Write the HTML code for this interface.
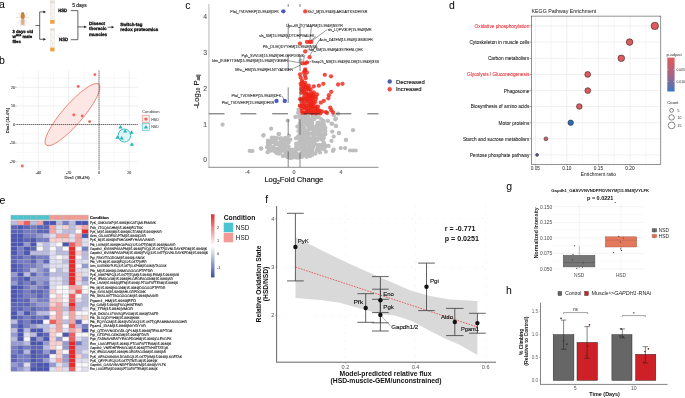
<!DOCTYPE html>
<html><head><meta charset="utf-8"><style>
html,body{margin:0;padding:0;background:#fff;}
body{width:685px;height:398px;overflow:hidden;}
svg{display:block;font-family:"Liberation Sans",sans-serif;will-change:transform;}
</style></head><body>
<svg width="685" height="398" viewBox="0 0 685 398">
<rect x="0" y="0" width="685" height="398" fill="#fff"/>
<text x="-0.90" y="7.80" font-size="10.5">a</text>
<text x="-0.90" y="63.60" font-size="10.5">b</text>
<text x="185.20" y="8.50" font-size="10.5">c</text>
<text x="449.00" y="8.70" font-size="10.5">d</text>
<text x="-0.60" y="203.80" font-size="10.5">e</text>
<text x="265.30" y="202.60" font-size="10.5">f</text>
<text x="506.20" y="189.60" font-size="10.5">g</text>
<text x="505.90" y="294.20" font-size="10.5">h</text>
<line x1="21.50" y1="15.50" x2="17.50" y2="13.00" stroke="#dcc0a4" stroke-width="0.45"/>
<line x1="24.00" y1="15.50" x2="28.00" y2="13.00" stroke="#dcc0a4" stroke-width="0.45"/>
<line x1="21.30" y1="17.20" x2="16.00" y2="17.60" stroke="#dcc0a4" stroke-width="0.45"/>
<line x1="24.20" y1="17.20" x2="29.40" y2="17.60" stroke="#dcc0a4" stroke-width="0.45"/>
<line x1="21.50" y1="18.80" x2="17.80" y2="23.50" stroke="#dcc0a4" stroke-width="0.45"/>
<line x1="24.00" y1="18.80" x2="27.80" y2="23.50" stroke="#dcc0a4" stroke-width="0.45"/>
<ellipse cx="21.9" cy="21.6" rx="1.5" ry="4.6" fill="#eadbd0" transform="rotate(8 21.9 21.6)"/>
<ellipse cx="23.6" cy="21.6" rx="1.5" ry="4.6" fill="#eadbd0" transform="rotate(-8 23.6 21.6)"/>
<ellipse cx="22.75" cy="21.4" rx="1.6" ry="3.6" fill="#d9b08e"/>
<ellipse cx="22.75" cy="16.3" rx="2.1" ry="2.7" fill="#c9843f"/>
<ellipse cx="22.75" cy="13.2" rx="1.6" ry="1.0" fill="#b97335"/>
<text x="12.40" y="32.70" font-size="4.3" stroke="#111" stroke-width="0.3" font-weight="bold" fill="#111" textLength="20.80" lengthAdjust="spacingAndGlyphs" style="text-rendering:geometricPrecision">3 days old</text>
<text x="12.4" y="37.8" font-size="4.3" font-weight="bold" fill="#111" stroke="#111" stroke-width="0.3" style="text-rendering:geometricPrecision">w<tspan font-size="2.6" dy="-1.5">1118</tspan><tspan dy="1.5"> male</tspan></text>
<text x="12.40" y="42.60" font-size="4.3" stroke="#111" stroke-width="0.3" font-weight="bold" fill="#111" textLength="8.40" lengthAdjust="spacingAndGlyphs" style="text-rendering:geometricPrecision">flies</text>
<line x1="35.40" y1="25.50" x2="39.70" y2="25.50" stroke="#222" stroke-width="0.7"/>
<line x1="39.70" y1="11.90" x2="39.70" y2="39.30" stroke="#222" stroke-width="0.7"/>
<line x1="39.70" y1="11.90" x2="44.50" y2="11.90" stroke="#222" stroke-width="0.7"/>
<line x1="39.70" y1="39.30" x2="44.50" y2="39.30" stroke="#222" stroke-width="0.7"/>
<path d="M46.0,11.9 L43.4,10.5 L43.4,13.3 Z" fill="#222"/>
<path d="M46.0,39.3 L43.4,37.9 L43.4,40.7 Z" fill="#222"/>
<rect x="50.10" y="0.70" width="4.50" height="23.00" fill="#f6f5f3" stroke="#dedad6" stroke-width="0.35"/>
<rect x="50.30" y="0.90" width="4.10" height="2.40" fill="#e4dcd2"/>
<rect x="50.20" y="20.00" width="4.30" height="3.70" fill="#eea23a"/>
<circle cx="51.60" cy="6.70" r="0.40" fill="#d8b080"/>
<circle cx="52.90" cy="9.70" r="0.40" fill="#d8b080"/>
<circle cx="51.30" cy="13.20" r="0.40" fill="#d8b080"/>
<circle cx="52.70" cy="16.20" r="0.40" fill="#d8b080"/>
<circle cx="51.90" cy="18.70" r="0.40" fill="#d8b080"/>
<rect x="50.10" y="28.20" width="4.50" height="23.10" fill="#f6f5f3" stroke="#dedad6" stroke-width="0.35"/>
<rect x="50.30" y="28.40" width="4.10" height="2.40" fill="#e4dcd2"/>
<rect x="50.20" y="47.60" width="4.30" height="3.70" fill="#eea23a"/>
<circle cx="51.60" cy="34.20" r="0.40" fill="#d8b080"/>
<circle cx="52.90" cy="37.20" r="0.40" fill="#d8b080"/>
<circle cx="51.30" cy="40.70" r="0.40" fill="#d8b080"/>
<circle cx="52.70" cy="43.70" r="0.40" fill="#d8b080"/>
<circle cx="51.90" cy="46.20" r="0.40" fill="#d8b080"/>
<text x="58.20" y="12.30" font-size="4.7" stroke="#111" stroke-width="0.3" font-weight="bold" fill="#111" textLength="9.00" lengthAdjust="spacingAndGlyphs" style="text-rendering:geometricPrecision">HSD</text>
<text x="59.10" y="41.30" font-size="4.7" stroke="#111" stroke-width="0.3" font-weight="bold" fill="#111" textLength="9.10" lengthAdjust="spacingAndGlyphs" style="text-rendering:geometricPrecision">NSD</text>
<line x1="70.80" y1="10.60" x2="77.90" y2="10.60" stroke="#222" stroke-width="0.7"/>
<line x1="70.80" y1="39.70" x2="77.90" y2="39.70" stroke="#222" stroke-width="0.7"/>
<line x1="77.90" y1="10.60" x2="77.90" y2="39.70" stroke="#222" stroke-width="0.7"/>
<line x1="77.90" y1="26.90" x2="85.20" y2="26.90" stroke="#222" stroke-width="0.7"/>
<path d="M86.8,26.9 L84.2,25.5 L84.2,28.3 Z" fill="#222"/>
<text x="72.20" y="7.30" font-size="4.6" stroke="#111" stroke-width="0.12" fill="#111" textLength="14.60" lengthAdjust="spacingAndGlyphs">5 days</text>
<text x="89.00" y="24.80" font-size="4.5" stroke="#111" stroke-width="0.3" font-weight="bold" fill="#111" textLength="16.10" lengthAdjust="spacingAndGlyphs" style="text-rendering:geometricPrecision">Dissect</text>
<text x="89.00" y="30.20" font-size="4.5" stroke="#111" stroke-width="0.3" font-weight="bold" fill="#111" textLength="17.60" lengthAdjust="spacingAndGlyphs" style="text-rendering:geometricPrecision">thoracic</text>
<text x="89.00" y="35.80" font-size="4.5" stroke="#111" stroke-width="0.3" font-weight="bold" fill="#111" textLength="17.90" lengthAdjust="spacingAndGlyphs" style="text-rendering:geometricPrecision">muscles</text>
<line x1="107.70" y1="27.20" x2="112.60" y2="27.20" stroke="#222" stroke-width="0.7"/>
<path d="M114.2,27.2 L111.6,25.8 L111.6,28.6 Z" fill="#222"/>
<text x="120.30" y="26.20" font-size="4.6" stroke="#111" stroke-width="0.3" font-weight="bold" fill="#111" textLength="22.00" lengthAdjust="spacingAndGlyphs" style="text-rendering:geometricPrecision">Switch-tag</text>
<text x="120.30" y="30.90" font-size="4.6" stroke="#111" stroke-width="0.3" font-weight="bold" fill="#111" textLength="38.10" lengthAdjust="spacingAndGlyphs" style="text-rendering:geometricPrecision">redox proteomics</text>
<line x1="23.25" y1="70.60" x2="23.25" y2="170.30" stroke="#f0f0f0" stroke-width="0.45"/>
<line x1="53.55" y1="70.60" x2="53.55" y2="170.30" stroke="#f0f0f0" stroke-width="0.45"/>
<line x1="83.85" y1="70.60" x2="83.85" y2="170.30" stroke="#f0f0f0" stroke-width="0.45"/>
<line x1="114.15" y1="70.60" x2="114.15" y2="170.30" stroke="#f0f0f0" stroke-width="0.45"/>
<line x1="16.70" y1="78.00" x2="137.70" y2="78.00" stroke="#f0f0f0" stroke-width="0.45"/>
<line x1="16.70" y1="96.60" x2="137.70" y2="96.60" stroke="#f0f0f0" stroke-width="0.45"/>
<line x1="16.70" y1="115.20" x2="137.70" y2="115.20" stroke="#f0f0f0" stroke-width="0.45"/>
<line x1="16.70" y1="133.80" x2="137.70" y2="133.80" stroke="#f0f0f0" stroke-width="0.45"/>
<line x1="16.70" y1="152.40" x2="137.70" y2="152.40" stroke="#f0f0f0" stroke-width="0.45"/>
<line x1="38.40" y1="70.60" x2="38.40" y2="170.30" stroke="#e2e2e2" stroke-width="0.55"/>
<line x1="68.70" y1="70.60" x2="68.70" y2="170.30" stroke="#e2e2e2" stroke-width="0.55"/>
<line x1="99.00" y1="70.60" x2="99.00" y2="170.30" stroke="#e2e2e2" stroke-width="0.55"/>
<line x1="129.30" y1="70.60" x2="129.30" y2="170.30" stroke="#e2e2e2" stroke-width="0.55"/>
<line x1="16.70" y1="87.30" x2="137.70" y2="87.30" stroke="#e2e2e2" stroke-width="0.55"/>
<line x1="16.70" y1="105.90" x2="137.70" y2="105.90" stroke="#e2e2e2" stroke-width="0.55"/>
<line x1="16.70" y1="124.50" x2="137.70" y2="124.50" stroke="#e2e2e2" stroke-width="0.55"/>
<line x1="16.70" y1="143.10" x2="137.70" y2="143.10" stroke="#e2e2e2" stroke-width="0.55"/>
<line x1="16.70" y1="161.70" x2="137.70" y2="161.70" stroke="#e2e2e2" stroke-width="0.55"/>
<ellipse cx="72.5" cy="114.6" rx="40.3" ry="10.1" fill="#fbe3df" fill-opacity="0.85" stroke="#ef6a60" stroke-width="0.75" transform="rotate(-49.1 72.5 114.6)"/>
<ellipse cx="124.4" cy="135.5" rx="6.3" ry="6.5" fill="#dff3f4" stroke="#1fb5c0" stroke-width="0.85"/>
<line x1="16.70" y1="124.50" x2="137.70" y2="124.50" stroke="#000" stroke-width="0.7" stroke-dasharray="1.1 0.9"/>
<line x1="99.00" y1="70.60" x2="99.00" y2="170.30" stroke="#000" stroke-width="0.7" stroke-dasharray="1.1 0.9"/>
<circle cx="94.90" cy="74.60" r="1.45" fill="#f1645c"/>
<circle cx="78.20" cy="86.40" r="1.45" fill="#f1645c"/>
<circle cx="73.80" cy="114.90" r="1.45" fill="#f1645c"/>
<circle cx="82.20" cy="115.90" r="1.45" fill="#f1645c"/>
<circle cx="89.60" cy="121.60" r="1.45" fill="#f1645c"/>
<circle cx="22.30" cy="166.00" r="1.45" fill="#f1645c"/>
<path d="M120.50,125.10 L122.60,128.60 L118.40,128.60 Z" fill="#1fb5c0"/>
<path d="M125.20,129.10 L127.30,132.60 L123.10,132.60 Z" fill="#1fb5c0"/>
<path d="M131.60,130.31 L133.70,133.80 L129.50,133.80 Z" fill="#1fb5c0"/>
<path d="M117.50,135.31 L119.60,138.80 L115.40,138.80 Z" fill="#1fb5c0"/>
<path d="M121.70,136.10 L123.80,139.60 L119.60,139.60 Z" fill="#1fb5c0"/>
<path d="M131.90,142.31 L134.00,145.80 L129.80,145.80 Z" fill="#1fb5c0"/>
<line x1="15.30" y1="87.30" x2="16.50" y2="87.30" stroke="#333" stroke-width="0.4"/>
<text x="14.90" y="88.60" font-size="3.6" stroke="#444" stroke-width="0.1" text-anchor="end" fill="#444">20</text>
<line x1="15.30" y1="105.90" x2="16.50" y2="105.90" stroke="#333" stroke-width="0.4"/>
<text x="14.90" y="107.20" font-size="3.6" stroke="#444" stroke-width="0.1" text-anchor="end" fill="#444">10</text>
<line x1="15.30" y1="124.50" x2="16.50" y2="124.50" stroke="#333" stroke-width="0.4"/>
<text x="14.90" y="125.80" font-size="3.6" stroke="#444" stroke-width="0.1" text-anchor="end" fill="#444">0</text>
<line x1="15.30" y1="143.10" x2="16.50" y2="143.10" stroke="#333" stroke-width="0.4"/>
<text x="14.90" y="144.40" font-size="3.6" stroke="#444" stroke-width="0.1" text-anchor="end" fill="#444">-10</text>
<line x1="15.30" y1="161.70" x2="16.50" y2="161.70" stroke="#333" stroke-width="0.4"/>
<text x="14.90" y="163.00" font-size="3.6" stroke="#444" stroke-width="0.1" text-anchor="end" fill="#444">-20</text>
<text x="38.40" y="174.30" font-size="3.6" stroke="#444" stroke-width="0.1" text-anchor="middle" fill="#444">-40</text>
<text x="68.70" y="174.30" font-size="3.6" stroke="#444" stroke-width="0.1" text-anchor="middle" fill="#444">-20</text>
<text x="99.00" y="174.30" font-size="3.6" stroke="#444" stroke-width="0.1" text-anchor="middle" fill="#444">0</text>
<text x="129.30" y="174.30" font-size="3.6" stroke="#444" stroke-width="0.1" text-anchor="middle" fill="#444">20</text>
<text x="77.10" y="178.60" font-size="4.1" stroke="#222" stroke-width="0.12" text-anchor="middle" fill="#222" textLength="25.20" lengthAdjust="spacingAndGlyphs">Dim1 (38.4%)</text>
<text x="8.90" y="120.60" font-size="4.1" stroke="#222" stroke-width="0.12" text-anchor="middle" fill="#222" textLength="25.20" lengthAdjust="spacingAndGlyphs" transform="rotate(-90 8.90 120.60)">Dim2 (14.4%)</text>
<text x="142.10" y="113.10" font-size="4.1" fill="#333" textLength="17.40" lengthAdjust="spacingAndGlyphs">Condition</text>
<rect x="142.20" y="115.60" width="7.40" height="7.10" fill="#fdf0ee" stroke="#f0766c" stroke-width="0.5"/>
<circle cx="145.90" cy="119.10" r="1.70" fill="#f1645c"/>
<rect x="142.20" y="123.20" width="7.40" height="7.10" fill="#e6f6f7" stroke="#1fb5c0" stroke-width="0.5"/>
<path d="M145.90,124.91 L148.00,128.40 L143.80,128.40 Z" fill="#1fb5c0"/>
<text x="151.20" y="120.50" font-size="3.5" fill="#222" textLength="7.70" lengthAdjust="spacingAndGlyphs">HSD</text>
<text x="151.20" y="128.20" font-size="3.5" fill="#222" textLength="7.70" lengthAdjust="spacingAndGlyphs">NSD</text>
<line x1="208.90" y1="4.00" x2="208.90" y2="167.30" stroke="#cdcdcd" stroke-width="1.4"/>
<line x1="208.40" y1="167.30" x2="378.50" y2="167.30" stroke="#777" stroke-width="0.85"/>
<circle cx="299.61" cy="115.15" r="2.10" fill="#bebebe"/>
<circle cx="302.10" cy="114.75" r="2.10" fill="#bebebe"/>
<circle cx="303.79" cy="115.12" r="2.10" fill="#bebebe"/>
<circle cx="306.62" cy="115.15" r="2.10" fill="#bebebe"/>
<circle cx="314.67" cy="114.64" r="2.10" fill="#bebebe"/>
<circle cx="316.40" cy="114.75" r="2.10" fill="#bebebe"/>
<circle cx="299.96" cy="116.39" r="2.10" fill="#bebebe"/>
<circle cx="301.79" cy="116.20" r="2.10" fill="#bebebe"/>
<circle cx="303.61" cy="116.16" r="2.10" fill="#bebebe"/>
<circle cx="306.61" cy="117.35" r="2.10" fill="#bebebe"/>
<circle cx="308.03" cy="116.02" r="2.10" fill="#bebebe"/>
<circle cx="312.67" cy="116.28" r="2.10" fill="#bebebe"/>
<circle cx="315.08" cy="117.11" r="2.10" fill="#bebebe"/>
<circle cx="317.04" cy="116.54" r="2.10" fill="#bebebe"/>
<circle cx="318.63" cy="117.23" r="2.10" fill="#bebebe"/>
<circle cx="300.13" cy="119.16" r="2.10" fill="#bebebe"/>
<circle cx="301.86" cy="119.09" r="2.10" fill="#bebebe"/>
<circle cx="303.89" cy="118.78" r="2.10" fill="#bebebe"/>
<circle cx="308.21" cy="119.42" r="2.10" fill="#bebebe"/>
<circle cx="310.86" cy="118.91" r="2.10" fill="#bebebe"/>
<circle cx="314.60" cy="119.04" r="2.10" fill="#bebebe"/>
<circle cx="321.19" cy="119.00" r="2.10" fill="#bebebe"/>
<circle cx="303.77" cy="120.30" r="2.10" fill="#bebebe"/>
<circle cx="306.30" cy="120.78" r="2.10" fill="#bebebe"/>
<circle cx="308.66" cy="121.08" r="2.10" fill="#bebebe"/>
<circle cx="310.28" cy="121.51" r="2.10" fill="#bebebe"/>
<circle cx="312.10" cy="120.82" r="2.10" fill="#bebebe"/>
<circle cx="323.61" cy="120.73" r="2.10" fill="#bebebe"/>
<circle cx="299.78" cy="122.85" r="2.10" fill="#bebebe"/>
<circle cx="302.73" cy="123.09" r="2.10" fill="#bebebe"/>
<circle cx="303.90" cy="123.07" r="2.10" fill="#bebebe"/>
<circle cx="305.82" cy="123.27" r="2.10" fill="#bebebe"/>
<circle cx="308.42" cy="122.81" r="2.10" fill="#bebebe"/>
<circle cx="311.04" cy="123.56" r="2.10" fill="#bebebe"/>
<circle cx="312.12" cy="123.15" r="2.10" fill="#bebebe"/>
<circle cx="317.49" cy="122.74" r="2.10" fill="#bebebe"/>
<circle cx="318.92" cy="122.62" r="2.10" fill="#bebebe"/>
<circle cx="322.08" cy="122.81" r="2.10" fill="#bebebe"/>
<circle cx="323.70" cy="123.06" r="2.10" fill="#bebebe"/>
<circle cx="299.29" cy="125.72" r="2.10" fill="#bebebe"/>
<circle cx="302.32" cy="125.16" r="2.10" fill="#bebebe"/>
<circle cx="306.92" cy="124.75" r="2.10" fill="#bebebe"/>
<circle cx="308.47" cy="125.32" r="2.10" fill="#bebebe"/>
<circle cx="310.65" cy="125.01" r="2.10" fill="#bebebe"/>
<circle cx="312.31" cy="125.37" r="2.10" fill="#bebebe"/>
<circle cx="316.72" cy="125.70" r="2.10" fill="#bebebe"/>
<circle cx="319.66" cy="125.48" r="2.10" fill="#bebebe"/>
<circle cx="320.74" cy="125.56" r="2.10" fill="#bebebe"/>
<circle cx="324.22" cy="125.95" r="2.10" fill="#bebebe"/>
<circle cx="299.91" cy="127.97" r="2.10" fill="#bebebe"/>
<circle cx="302.13" cy="127.57" r="2.10" fill="#bebebe"/>
<circle cx="303.87" cy="127.47" r="2.10" fill="#bebebe"/>
<circle cx="308.52" cy="126.89" r="2.10" fill="#bebebe"/>
<circle cx="313.13" cy="126.95" r="2.10" fill="#bebebe"/>
<circle cx="315.25" cy="127.62" r="2.10" fill="#bebebe"/>
<circle cx="316.52" cy="127.64" r="2.10" fill="#bebebe"/>
<circle cx="321.53" cy="127.03" r="2.10" fill="#bebebe"/>
<circle cx="324.08" cy="127.37" r="2.10" fill="#bebebe"/>
<circle cx="325.45" cy="127.82" r="2.10" fill="#bebebe"/>
<circle cx="302.59" cy="129.52" r="2.10" fill="#bebebe"/>
<circle cx="304.56" cy="128.85" r="2.10" fill="#bebebe"/>
<circle cx="308.67" cy="129.45" r="2.10" fill="#bebebe"/>
<circle cx="310.60" cy="128.99" r="2.10" fill="#bebebe"/>
<circle cx="312.32" cy="129.07" r="2.10" fill="#bebebe"/>
<circle cx="317.63" cy="129.06" r="2.10" fill="#bebebe"/>
<circle cx="318.91" cy="129.24" r="2.10" fill="#bebebe"/>
<circle cx="320.93" cy="129.25" r="2.10" fill="#bebebe"/>
<circle cx="325.04" cy="130.14" r="2.10" fill="#bebebe"/>
<circle cx="298.42" cy="131.01" r="2.10" fill="#bebebe"/>
<circle cx="301.92" cy="131.06" r="2.10" fill="#bebebe"/>
<circle cx="304.27" cy="132.39" r="2.10" fill="#bebebe"/>
<circle cx="306.38" cy="131.49" r="2.10" fill="#bebebe"/>
<circle cx="307.93" cy="131.10" r="2.10" fill="#bebebe"/>
<circle cx="313.41" cy="131.08" r="2.10" fill="#bebebe"/>
<circle cx="314.59" cy="131.07" r="2.10" fill="#bebebe"/>
<circle cx="316.96" cy="131.08" r="2.10" fill="#bebebe"/>
<circle cx="318.91" cy="131.57" r="2.10" fill="#bebebe"/>
<circle cx="321.13" cy="131.07" r="2.10" fill="#bebebe"/>
<circle cx="325.25" cy="131.71" r="2.10" fill="#bebebe"/>
<circle cx="299.80" cy="133.96" r="2.10" fill="#bebebe"/>
<circle cx="301.69" cy="133.24" r="2.10" fill="#bebebe"/>
<circle cx="304.48" cy="133.22" r="2.10" fill="#bebebe"/>
<circle cx="305.93" cy="133.55" r="2.10" fill="#bebebe"/>
<circle cx="308.32" cy="133.29" r="2.10" fill="#bebebe"/>
<circle cx="310.54" cy="133.59" r="2.10" fill="#bebebe"/>
<circle cx="313.15" cy="133.93" r="2.10" fill="#bebebe"/>
<circle cx="315.50" cy="134.07" r="2.10" fill="#bebebe"/>
<circle cx="317.46" cy="133.95" r="2.10" fill="#bebebe"/>
<circle cx="319.17" cy="134.29" r="2.10" fill="#bebebe"/>
<circle cx="321.62" cy="134.49" r="2.10" fill="#bebebe"/>
<circle cx="323.87" cy="134.13" r="2.10" fill="#bebebe"/>
<circle cx="325.37" cy="134.29" r="2.10" fill="#bebebe"/>
<circle cx="298.36" cy="136.41" r="2.10" fill="#bebebe"/>
<circle cx="299.37" cy="135.74" r="2.10" fill="#bebebe"/>
<circle cx="302.63" cy="135.95" r="2.10" fill="#bebebe"/>
<circle cx="304.11" cy="135.92" r="2.10" fill="#bebebe"/>
<circle cx="306.72" cy="136.61" r="2.10" fill="#bebebe"/>
<circle cx="308.55" cy="136.66" r="2.10" fill="#bebebe"/>
<circle cx="313.24" cy="135.89" r="2.10" fill="#bebebe"/>
<circle cx="314.32" cy="136.67" r="2.10" fill="#bebebe"/>
<circle cx="321.25" cy="135.60" r="2.10" fill="#bebebe"/>
<circle cx="323.24" cy="135.58" r="2.10" fill="#bebebe"/>
<circle cx="272.44" cy="138.32" r="2.10" fill="#bebebe"/>
<circle cx="273.96" cy="137.65" r="2.10" fill="#bebebe"/>
<circle cx="276.71" cy="138.14" r="2.10" fill="#bebebe"/>
<circle cx="279.99" cy="138.45" r="2.10" fill="#bebebe"/>
<circle cx="285.27" cy="137.90" r="2.10" fill="#bebebe"/>
<circle cx="287.26" cy="138.66" r="2.10" fill="#bebebe"/>
<circle cx="297.49" cy="137.49" r="2.10" fill="#bebebe"/>
<circle cx="299.64" cy="137.99" r="2.10" fill="#bebebe"/>
<circle cx="302.02" cy="138.43" r="2.10" fill="#bebebe"/>
<circle cx="304.06" cy="138.83" r="2.10" fill="#bebebe"/>
<circle cx="306.79" cy="138.74" r="2.10" fill="#bebebe"/>
<circle cx="310.70" cy="138.57" r="2.10" fill="#bebebe"/>
<circle cx="312.61" cy="138.28" r="2.10" fill="#bebebe"/>
<circle cx="315.20" cy="138.18" r="2.10" fill="#bebebe"/>
<circle cx="318.67" cy="137.95" r="2.10" fill="#bebebe"/>
<circle cx="321.51" cy="138.51" r="2.10" fill="#bebebe"/>
<circle cx="323.85" cy="137.88" r="2.10" fill="#bebebe"/>
<circle cx="268.00" cy="140.54" r="2.10" fill="#bebebe"/>
<circle cx="270.44" cy="140.86" r="2.10" fill="#bebebe"/>
<circle cx="272.21" cy="140.77" r="2.10" fill="#bebebe"/>
<circle cx="274.43" cy="140.46" r="2.10" fill="#bebebe"/>
<circle cx="275.84" cy="140.32" r="2.10" fill="#bebebe"/>
<circle cx="281.21" cy="140.36" r="2.10" fill="#bebebe"/>
<circle cx="282.55" cy="139.60" r="2.10" fill="#bebebe"/>
<circle cx="284.70" cy="139.85" r="2.10" fill="#bebebe"/>
<circle cx="287.21" cy="140.86" r="2.10" fill="#bebebe"/>
<circle cx="299.63" cy="139.97" r="2.10" fill="#bebebe"/>
<circle cx="302.22" cy="140.86" r="2.10" fill="#bebebe"/>
<circle cx="303.73" cy="140.49" r="2.10" fill="#bebebe"/>
<circle cx="306.72" cy="139.91" r="2.10" fill="#bebebe"/>
<circle cx="307.89" cy="140.39" r="2.10" fill="#bebebe"/>
<circle cx="311.11" cy="140.83" r="2.10" fill="#bebebe"/>
<circle cx="313.12" cy="140.18" r="2.10" fill="#bebebe"/>
<circle cx="314.85" cy="140.34" r="2.10" fill="#bebebe"/>
<circle cx="317.67" cy="140.02" r="2.10" fill="#bebebe"/>
<circle cx="322.05" cy="139.86" r="2.10" fill="#bebebe"/>
<circle cx="322.89" cy="139.76" r="2.10" fill="#bebebe"/>
<circle cx="267.78" cy="142.65" r="2.10" fill="#bebebe"/>
<circle cx="270.07" cy="142.77" r="2.10" fill="#bebebe"/>
<circle cx="271.34" cy="142.43" r="2.10" fill="#bebebe"/>
<circle cx="274.57" cy="143.09" r="2.10" fill="#bebebe"/>
<circle cx="276.00" cy="142.94" r="2.10" fill="#bebebe"/>
<circle cx="278.60" cy="143.05" r="2.10" fill="#bebebe"/>
<circle cx="280.17" cy="142.73" r="2.10" fill="#bebebe"/>
<circle cx="283.18" cy="142.42" r="2.10" fill="#bebebe"/>
<circle cx="284.29" cy="142.02" r="2.10" fill="#bebebe"/>
<circle cx="288.66" cy="142.61" r="2.10" fill="#bebebe"/>
<circle cx="298.34" cy="143.09" r="2.10" fill="#bebebe"/>
<circle cx="300.08" cy="143.10" r="2.10" fill="#bebebe"/>
<circle cx="301.49" cy="141.89" r="2.10" fill="#bebebe"/>
<circle cx="306.17" cy="142.39" r="2.10" fill="#bebebe"/>
<circle cx="308.75" cy="142.79" r="2.10" fill="#bebebe"/>
<circle cx="310.07" cy="142.31" r="2.10" fill="#bebebe"/>
<circle cx="312.86" cy="142.28" r="2.10" fill="#bebebe"/>
<circle cx="314.41" cy="142.59" r="2.10" fill="#bebebe"/>
<circle cx="323.91" cy="142.76" r="2.10" fill="#bebebe"/>
<circle cx="267.98" cy="145.19" r="2.10" fill="#bebebe"/>
<circle cx="269.63" cy="144.31" r="2.10" fill="#bebebe"/>
<circle cx="275.96" cy="144.37" r="2.10" fill="#bebebe"/>
<circle cx="278.89" cy="144.63" r="2.10" fill="#bebebe"/>
<circle cx="279.92" cy="144.49" r="2.10" fill="#bebebe"/>
<circle cx="282.33" cy="144.83" r="2.10" fill="#bebebe"/>
<circle cx="284.25" cy="144.28" r="2.10" fill="#bebebe"/>
<circle cx="286.43" cy="144.57" r="2.10" fill="#bebebe"/>
<circle cx="296.04" cy="143.91" r="2.10" fill="#bebebe"/>
<circle cx="301.99" cy="144.44" r="2.10" fill="#bebebe"/>
<circle cx="304.22" cy="143.97" r="2.10" fill="#bebebe"/>
<circle cx="308.42" cy="144.56" r="2.10" fill="#bebebe"/>
<circle cx="310.07" cy="144.29" r="2.10" fill="#bebebe"/>
<circle cx="313.44" cy="144.86" r="2.10" fill="#bebebe"/>
<circle cx="314.96" cy="143.97" r="2.10" fill="#bebebe"/>
<circle cx="316.95" cy="144.99" r="2.10" fill="#bebebe"/>
<circle cx="319.16" cy="144.73" r="2.10" fill="#bebebe"/>
<circle cx="321.96" cy="144.80" r="2.10" fill="#bebebe"/>
<circle cx="323.74" cy="143.95" r="2.10" fill="#bebebe"/>
<circle cx="325.03" cy="144.98" r="2.10" fill="#bebebe"/>
<circle cx="268.11" cy="147.33" r="2.10" fill="#bebebe"/>
<circle cx="272.31" cy="147.30" r="2.10" fill="#bebebe"/>
<circle cx="273.61" cy="147.14" r="2.10" fill="#bebebe"/>
<circle cx="280.44" cy="146.43" r="2.10" fill="#bebebe"/>
<circle cx="282.66" cy="146.45" r="2.10" fill="#bebebe"/>
<circle cx="285.08" cy="146.22" r="2.10" fill="#bebebe"/>
<circle cx="286.54" cy="146.69" r="2.10" fill="#bebebe"/>
<circle cx="288.55" cy="146.58" r="2.10" fill="#bebebe"/>
<circle cx="296.06" cy="147.40" r="2.10" fill="#bebebe"/>
<circle cx="297.89" cy="146.24" r="2.10" fill="#bebebe"/>
<circle cx="299.53" cy="147.34" r="2.10" fill="#bebebe"/>
<circle cx="302.66" cy="146.09" r="2.10" fill="#bebebe"/>
<circle cx="303.76" cy="146.65" r="2.10" fill="#bebebe"/>
<circle cx="306.02" cy="147.11" r="2.10" fill="#bebebe"/>
<circle cx="308.32" cy="147.14" r="2.10" fill="#bebebe"/>
<circle cx="310.16" cy="146.78" r="2.10" fill="#bebebe"/>
<circle cx="313.46" cy="147.03" r="2.10" fill="#bebebe"/>
<circle cx="319.07" cy="146.72" r="2.10" fill="#bebebe"/>
<circle cx="321.51" cy="147.40" r="2.10" fill="#bebebe"/>
<circle cx="325.37" cy="146.81" r="2.10" fill="#bebebe"/>
<circle cx="269.11" cy="149.28" r="2.10" fill="#bebebe"/>
<circle cx="271.84" cy="148.91" r="2.10" fill="#bebebe"/>
<circle cx="274.25" cy="149.31" r="2.10" fill="#bebebe"/>
<circle cx="275.63" cy="148.90" r="2.10" fill="#bebebe"/>
<circle cx="277.75" cy="148.74" r="2.10" fill="#bebebe"/>
<circle cx="280.33" cy="148.23" r="2.10" fill="#bebebe"/>
<circle cx="282.42" cy="148.83" r="2.10" fill="#bebebe"/>
<circle cx="285.07" cy="149.49" r="2.10" fill="#bebebe"/>
<circle cx="289.45" cy="149.51" r="2.10" fill="#bebebe"/>
<circle cx="291.93" cy="149.58" r="2.10" fill="#bebebe"/>
<circle cx="296.20" cy="148.31" r="2.10" fill="#bebebe"/>
<circle cx="297.68" cy="149.23" r="2.10" fill="#bebebe"/>
<circle cx="299.94" cy="148.74" r="2.10" fill="#bebebe"/>
<circle cx="302.64" cy="148.62" r="2.10" fill="#bebebe"/>
<circle cx="304.27" cy="149.36" r="2.10" fill="#bebebe"/>
<circle cx="310.24" cy="148.84" r="2.10" fill="#bebebe"/>
<circle cx="312.18" cy="148.32" r="2.10" fill="#bebebe"/>
<circle cx="317.75" cy="148.57" r="2.10" fill="#bebebe"/>
<circle cx="318.94" cy="149.30" r="2.10" fill="#bebebe"/>
<circle cx="321.74" cy="148.57" r="2.10" fill="#bebebe"/>
<circle cx="324.01" cy="149.08" r="2.10" fill="#bebebe"/>
<circle cx="270.36" cy="150.60" r="2.10" fill="#bebebe"/>
<circle cx="271.44" cy="150.42" r="2.10" fill="#bebebe"/>
<circle cx="274.44" cy="151.14" r="2.10" fill="#bebebe"/>
<circle cx="275.56" cy="150.41" r="2.10" fill="#bebebe"/>
<circle cx="278.85" cy="151.04" r="2.10" fill="#bebebe"/>
<circle cx="281.07" cy="150.41" r="2.10" fill="#bebebe"/>
<circle cx="282.82" cy="150.51" r="2.10" fill="#bebebe"/>
<circle cx="285.16" cy="151.21" r="2.10" fill="#bebebe"/>
<circle cx="287.16" cy="150.66" r="2.10" fill="#bebebe"/>
<circle cx="289.78" cy="150.51" r="2.10" fill="#bebebe"/>
<circle cx="292.88" cy="150.44" r="2.10" fill="#bebebe"/>
<circle cx="295.54" cy="151.26" r="2.10" fill="#bebebe"/>
<circle cx="302.53" cy="150.52" r="2.10" fill="#bebebe"/>
<circle cx="306.07" cy="150.35" r="2.10" fill="#bebebe"/>
<circle cx="308.86" cy="151.07" r="2.10" fill="#bebebe"/>
<circle cx="312.32" cy="150.65" r="2.10" fill="#bebebe"/>
<circle cx="316.69" cy="150.47" r="2.10" fill="#bebebe"/>
<circle cx="319.04" cy="150.46" r="2.10" fill="#bebebe"/>
<circle cx="276.48" cy="153.09" r="2.10" fill="#bebebe"/>
<circle cx="278.80" cy="153.67" r="2.10" fill="#bebebe"/>
<circle cx="280.26" cy="152.65" r="2.10" fill="#bebebe"/>
<circle cx="285.40" cy="152.87" r="2.10" fill="#bebebe"/>
<circle cx="287.18" cy="153.40" r="2.10" fill="#bebebe"/>
<circle cx="289.79" cy="152.66" r="2.10" fill="#bebebe"/>
<circle cx="291.68" cy="152.97" r="2.10" fill="#bebebe"/>
<circle cx="292.89" cy="153.38" r="2.10" fill="#bebebe"/>
<circle cx="296.08" cy="153.32" r="2.10" fill="#bebebe"/>
<circle cx="297.12" cy="153.86" r="2.10" fill="#bebebe"/>
<circle cx="302.36" cy="152.86" r="2.10" fill="#bebebe"/>
<circle cx="304.07" cy="152.96" r="2.10" fill="#bebebe"/>
<circle cx="305.78" cy="152.59" r="2.10" fill="#bebebe"/>
<circle cx="308.80" cy="153.07" r="2.10" fill="#bebebe"/>
<circle cx="311.17" cy="152.59" r="2.10" fill="#bebebe"/>
<circle cx="312.52" cy="152.75" r="2.10" fill="#bebebe"/>
<circle cx="315.57" cy="153.61" r="2.10" fill="#bebebe"/>
<circle cx="282.72" cy="155.94" r="2.10" fill="#bebebe"/>
<circle cx="284.68" cy="155.54" r="2.10" fill="#bebebe"/>
<circle cx="287.59" cy="155.11" r="2.10" fill="#bebebe"/>
<circle cx="289.59" cy="155.39" r="2.10" fill="#bebebe"/>
<circle cx="290.80" cy="154.73" r="2.10" fill="#bebebe"/>
<circle cx="294.06" cy="155.30" r="2.10" fill="#bebebe"/>
<circle cx="295.52" cy="155.93" r="2.10" fill="#bebebe"/>
<circle cx="297.85" cy="155.35" r="2.10" fill="#bebebe"/>
<circle cx="299.60" cy="155.69" r="2.10" fill="#bebebe"/>
<circle cx="301.71" cy="155.31" r="2.10" fill="#bebebe"/>
<circle cx="304.56" cy="155.50" r="2.10" fill="#bebebe"/>
<circle cx="305.84" cy="154.93" r="2.10" fill="#bebebe"/>
<circle cx="308.77" cy="155.67" r="2.10" fill="#bebebe"/>
<circle cx="310.09" cy="156.05" r="2.10" fill="#bebebe"/>
<circle cx="312.29" cy="154.88" r="2.10" fill="#bebebe"/>
<circle cx="287.62" cy="157.24" r="2.10" fill="#bebebe"/>
<circle cx="289.64" cy="157.73" r="2.10" fill="#bebebe"/>
<circle cx="291.19" cy="157.97" r="2.10" fill="#bebebe"/>
<circle cx="293.70" cy="157.28" r="2.10" fill="#bebebe"/>
<circle cx="295.92" cy="157.51" r="2.10" fill="#bebebe"/>
<circle cx="298.05" cy="157.66" r="2.10" fill="#bebebe"/>
<circle cx="300.31" cy="157.02" r="2.10" fill="#bebebe"/>
<circle cx="302.04" cy="156.80" r="2.10" fill="#bebebe"/>
<circle cx="306.82" cy="156.86" r="2.10" fill="#bebebe"/>
<circle cx="222.60" cy="124.60" r="2.10" fill="#bebebe"/>
<circle cx="251.50" cy="151.00" r="2.10" fill="#bebebe"/>
<circle cx="249.70" cy="150.80" r="2.10" fill="#bebebe"/>
<circle cx="252.40" cy="151.00" r="2.10" fill="#bebebe"/>
<circle cx="260.80" cy="148.40" r="2.10" fill="#bebebe"/>
<circle cx="263.60" cy="135.10" r="2.10" fill="#bebebe"/>
<circle cx="271.10" cy="128.70" r="2.10" fill="#bebebe"/>
<circle cx="267.80" cy="152.00" r="2.10" fill="#bebebe"/>
<circle cx="287.70" cy="120.50" r="2.10" fill="#bebebe"/>
<circle cx="296.00" cy="117.00" r="2.10" fill="#bebebe"/>
<circle cx="279.10" cy="133.80" r="2.10" fill="#bebebe"/>
<circle cx="289.00" cy="135.60" r="2.10" fill="#bebebe"/>
<circle cx="290.40" cy="139.70" r="2.10" fill="#bebebe"/>
<circle cx="281.50" cy="138.30" r="2.10" fill="#bebebe"/>
<circle cx="278.70" cy="143.20" r="2.10" fill="#bebebe"/>
<circle cx="271.80" cy="137.60" r="2.10" fill="#bebebe"/>
<circle cx="268.30" cy="141.80" r="2.10" fill="#bebebe"/>
<circle cx="267.00" cy="147.30" r="2.10" fill="#bebebe"/>
<circle cx="267.60" cy="152.20" r="2.10" fill="#bebebe"/>
<circle cx="269.70" cy="144.50" r="2.10" fill="#bebebe"/>
<circle cx="297.40" cy="126.60" r="2.10" fill="#bebebe"/>
<circle cx="296.00" cy="138.30" r="2.10" fill="#bebebe"/>
<circle cx="298.00" cy="112.80" r="2.10" fill="#bebebe"/>
<circle cx="295.30" cy="116.90" r="2.10" fill="#bebebe"/>
<circle cx="327.90" cy="120.90" r="2.10" fill="#bebebe"/>
<circle cx="331.50" cy="123.70" r="2.10" fill="#bebebe"/>
<circle cx="335.80" cy="125.90" r="2.10" fill="#bebebe"/>
<circle cx="332.20" cy="131.60" r="2.10" fill="#bebebe"/>
<circle cx="338.70" cy="133.10" r="2.10" fill="#bebebe"/>
<circle cx="353.00" cy="130.20" r="2.10" fill="#bebebe"/>
<circle cx="333.70" cy="136.60" r="2.10" fill="#bebebe"/>
<circle cx="331.50" cy="140.90" r="2.10" fill="#bebebe"/>
<circle cx="345.80" cy="139.80" r="2.10" fill="#bebebe"/>
<circle cx="328.60" cy="145.90" r="2.10" fill="#bebebe"/>
<circle cx="333.70" cy="149.50" r="2.10" fill="#bebebe"/>
<circle cx="340.80" cy="148.10" r="2.10" fill="#bebebe"/>
<circle cx="345.10" cy="148.10" r="2.10" fill="#bebebe"/>
<circle cx="350.10" cy="150.50" r="2.10" fill="#bebebe"/>
<circle cx="353.00" cy="150.50" r="2.10" fill="#bebebe"/>
<circle cx="355.80" cy="150.50" r="2.10" fill="#bebebe"/>
<circle cx="332.90" cy="150.90" r="2.10" fill="#bebebe"/>
<circle cx="325.80" cy="151.70" r="2.10" fill="#bebebe"/>
<circle cx="320.00" cy="152.40" r="2.10" fill="#bebebe"/>
<circle cx="335.80" cy="118.70" r="2.10" fill="#bebebe"/>
<circle cx="333.70" cy="115.20" r="2.10" fill="#bebebe"/>
<circle cx="338.00" cy="113.70" r="2.10" fill="#bebebe"/>
<circle cx="336.00" cy="126.00" r="2.10" fill="#bebebe"/>
<circle cx="332.20" cy="123.80" r="2.10" fill="#bebebe"/>
<circle cx="335.20" cy="119.30" r="2.10" fill="#bebebe"/>
<circle cx="346.00" cy="140.10" r="2.10" fill="#bebebe"/>
<circle cx="339.00" cy="132.90" r="2.10" fill="#bebebe"/>
<circle cx="272.00" cy="139.80" r="2.10" fill="#bebebe"/>
<circle cx="278.50" cy="134.20" r="2.10" fill="#bebebe"/>
<circle cx="263.30" cy="135.60" r="2.10" fill="#bebebe"/>
<circle cx="261.30" cy="148.60" r="2.10" fill="#bebebe"/>
<circle cx="300.50" cy="60.70" r="2.10" fill="#bebebe"/>
<circle cx="298.50" cy="109.50" r="2.10" fill="#bebebe"/>
<circle cx="302.03" cy="80.70" r="2.15" fill="#ec2214" fill-opacity="0.8"/>
<circle cx="302.20" cy="82.35" r="2.15" fill="#ec2214" fill-opacity="0.8"/>
<circle cx="301.31" cy="85.88" r="2.15" fill="#ec2214" fill-opacity="0.8"/>
<circle cx="304.18" cy="84.93" r="2.15" fill="#ec2214" fill-opacity="0.8"/>
<circle cx="305.82" cy="85.10" r="2.15" fill="#ec2214" fill-opacity="0.8"/>
<circle cx="303.61" cy="86.84" r="2.15" fill="#ec2214" fill-opacity="0.8"/>
<circle cx="305.87" cy="87.37" r="2.15" fill="#ec2214" fill-opacity="0.8"/>
<circle cx="308.01" cy="87.74" r="2.15" fill="#ec2214" fill-opacity="0.8"/>
<circle cx="302.34" cy="90.41" r="2.15" fill="#ec2214" fill-opacity="0.8"/>
<circle cx="304.33" cy="89.17" r="2.15" fill="#ec2214" fill-opacity="0.8"/>
<circle cx="306.30" cy="90.27" r="2.15" fill="#ec2214" fill-opacity="0.8"/>
<circle cx="308.83" cy="89.39" r="2.15" fill="#ec2214" fill-opacity="0.8"/>
<circle cx="310.63" cy="89.19" r="2.15" fill="#ec2214" fill-opacity="0.8"/>
<circle cx="301.52" cy="92.77" r="2.15" fill="#ec2214" fill-opacity="0.8"/>
<circle cx="303.85" cy="92.69" r="2.15" fill="#ec2214" fill-opacity="0.8"/>
<circle cx="310.69" cy="92.32" r="2.15" fill="#ec2214" fill-opacity="0.8"/>
<circle cx="313.87" cy="92.35" r="2.15" fill="#ec2214" fill-opacity="0.8"/>
<circle cx="304.71" cy="93.74" r="2.15" fill="#ec2214" fill-opacity="0.8"/>
<circle cx="306.93" cy="93.83" r="2.15" fill="#ec2214" fill-opacity="0.8"/>
<circle cx="308.27" cy="94.74" r="2.15" fill="#ec2214" fill-opacity="0.8"/>
<circle cx="311.35" cy="94.56" r="2.15" fill="#ec2214" fill-opacity="0.8"/>
<circle cx="313.27" cy="94.71" r="2.15" fill="#ec2214" fill-opacity="0.8"/>
<circle cx="303.64" cy="97.24" r="2.15" fill="#ec2214" fill-opacity="0.8"/>
<circle cx="307.00" cy="96.07" r="2.15" fill="#ec2214" fill-opacity="0.8"/>
<circle cx="308.64" cy="96.31" r="2.15" fill="#ec2214" fill-opacity="0.8"/>
<circle cx="311.19" cy="96.50" r="2.15" fill="#ec2214" fill-opacity="0.8"/>
<circle cx="313.02" cy="96.42" r="2.15" fill="#ec2214" fill-opacity="0.8"/>
<circle cx="315.75" cy="96.70" r="2.15" fill="#ec2214" fill-opacity="0.8"/>
<circle cx="300.10" cy="99.17" r="2.15" fill="#ec2214" fill-opacity="0.8"/>
<circle cx="301.93" cy="99.41" r="2.15" fill="#ec2214" fill-opacity="0.8"/>
<circle cx="304.40" cy="98.57" r="2.15" fill="#ec2214" fill-opacity="0.8"/>
<circle cx="306.28" cy="98.52" r="2.15" fill="#ec2214" fill-opacity="0.8"/>
<circle cx="308.03" cy="99.26" r="2.15" fill="#ec2214" fill-opacity="0.8"/>
<circle cx="310.76" cy="98.66" r="2.15" fill="#ec2214" fill-opacity="0.8"/>
<circle cx="312.64" cy="98.33" r="2.15" fill="#ec2214" fill-opacity="0.8"/>
<circle cx="315.84" cy="98.80" r="2.15" fill="#ec2214" fill-opacity="0.8"/>
<circle cx="302.00" cy="101.00" r="2.15" fill="#ec2214" fill-opacity="0.8"/>
<circle cx="304.64" cy="101.45" r="2.15" fill="#ec2214" fill-opacity="0.8"/>
<circle cx="306.69" cy="100.79" r="2.15" fill="#ec2214" fill-opacity="0.8"/>
<circle cx="309.17" cy="101.00" r="2.15" fill="#ec2214" fill-opacity="0.8"/>
<circle cx="311.17" cy="101.63" r="2.15" fill="#ec2214" fill-opacity="0.8"/>
<circle cx="313.05" cy="100.97" r="2.15" fill="#ec2214" fill-opacity="0.8"/>
<circle cx="315.36" cy="101.97" r="2.15" fill="#ec2214" fill-opacity="0.8"/>
<circle cx="301.94" cy="104.27" r="2.15" fill="#ec2214" fill-opacity="0.8"/>
<circle cx="304.27" cy="104.09" r="2.15" fill="#ec2214" fill-opacity="0.8"/>
<circle cx="308.59" cy="103.56" r="2.15" fill="#ec2214" fill-opacity="0.8"/>
<circle cx="310.82" cy="103.96" r="2.15" fill="#ec2214" fill-opacity="0.8"/>
<circle cx="313.41" cy="103.07" r="2.15" fill="#ec2214" fill-opacity="0.8"/>
<circle cx="299.82" cy="105.69" r="2.15" fill="#ec2214" fill-opacity="0.8"/>
<circle cx="301.28" cy="106.34" r="2.15" fill="#ec2214" fill-opacity="0.8"/>
<circle cx="304.45" cy="106.27" r="2.15" fill="#ec2214" fill-opacity="0.8"/>
<circle cx="306.24" cy="105.38" r="2.15" fill="#ec2214" fill-opacity="0.8"/>
<circle cx="309.06" cy="105.50" r="2.15" fill="#ec2214" fill-opacity="0.8"/>
<circle cx="311.24" cy="106.18" r="2.15" fill="#ec2214" fill-opacity="0.8"/>
<circle cx="312.98" cy="105.20" r="2.15" fill="#ec2214" fill-opacity="0.8"/>
<circle cx="315.73" cy="106.31" r="2.15" fill="#ec2214" fill-opacity="0.8"/>
<circle cx="318.02" cy="106.58" r="2.15" fill="#ec2214" fill-opacity="0.8"/>
<circle cx="301.87" cy="108.35" r="2.15" fill="#ec2214" fill-opacity="0.8"/>
<circle cx="304.67" cy="108.35" r="2.15" fill="#ec2214" fill-opacity="0.8"/>
<circle cx="306.40" cy="108.41" r="2.15" fill="#ec2214" fill-opacity="0.8"/>
<circle cx="308.88" cy="108.07" r="2.15" fill="#ec2214" fill-opacity="0.8"/>
<circle cx="310.67" cy="108.46" r="2.15" fill="#ec2214" fill-opacity="0.8"/>
<circle cx="313.14" cy="107.55" r="2.15" fill="#ec2214" fill-opacity="0.8"/>
<circle cx="315.14" cy="108.00" r="2.15" fill="#ec2214" fill-opacity="0.8"/>
<circle cx="301.70" cy="111.05" r="2.15" fill="#ec2214" fill-opacity="0.8"/>
<circle cx="306.90" cy="111.03" r="2.15" fill="#ec2214" fill-opacity="0.8"/>
<circle cx="308.27" cy="110.93" r="2.15" fill="#ec2214" fill-opacity="0.8"/>
<circle cx="311.05" cy="111.11" r="2.15" fill="#ec2214" fill-opacity="0.8"/>
<circle cx="313.06" cy="110.73" r="2.15" fill="#ec2214" fill-opacity="0.8"/>
<circle cx="315.80" cy="111.19" r="2.15" fill="#ec2214" fill-opacity="0.8"/>
<circle cx="317.67" cy="110.35" r="2.15" fill="#ec2214" fill-opacity="0.8"/>
<circle cx="319.67" cy="110.76" r="2.15" fill="#ec2214" fill-opacity="0.8"/>
<circle cx="302.43" cy="112.80" r="2.15" fill="#ec2214" fill-opacity="0.8"/>
<circle cx="304.46" cy="112.58" r="2.15" fill="#ec2214" fill-opacity="0.8"/>
<circle cx="306.04" cy="112.62" r="2.15" fill="#ec2214" fill-opacity="0.8"/>
<circle cx="309.38" cy="112.37" r="2.15" fill="#ec2214" fill-opacity="0.8"/>
<circle cx="311.57" cy="113.34" r="2.15" fill="#ec2214" fill-opacity="0.8"/>
<circle cx="313.55" cy="112.47" r="2.15" fill="#ec2214" fill-opacity="0.8"/>
<circle cx="315.92" cy="113.37" r="2.15" fill="#ec2214" fill-opacity="0.8"/>
<circle cx="318.03" cy="112.41" r="2.15" fill="#ec2214" fill-opacity="0.8"/>
<circle cx="320.35" cy="113.44" r="2.15" fill="#ec2214" fill-opacity="0.8"/>
<circle cx="305.00" cy="70.70" r="2.15" fill="#ec2214" fill-opacity="0.8"/>
<circle cx="303.80" cy="72.50" r="2.15" fill="#ec2214" fill-opacity="0.8"/>
<circle cx="306.90" cy="72.50" r="2.15" fill="#ec2214" fill-opacity="0.8"/>
<circle cx="300.00" cy="74.40" r="2.15" fill="#ec2214" fill-opacity="0.8"/>
<circle cx="305.00" cy="75.70" r="2.15" fill="#ec2214" fill-opacity="0.8"/>
<circle cx="300.70" cy="77.60" r="2.15" fill="#ec2214" fill-opacity="0.8"/>
<circle cx="305.70" cy="78.20" r="2.15" fill="#ec2214" fill-opacity="0.8"/>
<circle cx="324.80" cy="74.80" r="2.15" fill="#ec2214" fill-opacity="0.8"/>
<circle cx="331.00" cy="76.30" r="2.15" fill="#ec2214" fill-opacity="0.8"/>
<circle cx="300.70" cy="83.80" r="2.15" fill="#ec2214" fill-opacity="0.8"/>
<circle cx="305.00" cy="82.60" r="2.15" fill="#ec2214" fill-opacity="0.8"/>
<circle cx="308.80" cy="85.70" r="2.15" fill="#ec2214" fill-opacity="0.8"/>
<circle cx="313.80" cy="86.40" r="2.15" fill="#ec2214" fill-opacity="0.8"/>
<circle cx="318.90" cy="85.70" r="2.15" fill="#ec2214" fill-opacity="0.8"/>
<circle cx="323.30" cy="83.80" r="2.15" fill="#ec2214" fill-opacity="0.8"/>
<circle cx="338.10" cy="84.50" r="2.15" fill="#ec2214" fill-opacity="0.8"/>
<circle cx="342.50" cy="83.80" r="2.15" fill="#ec2214" fill-opacity="0.8"/>
<circle cx="301.30" cy="88.90" r="2.15" fill="#ec2214" fill-opacity="0.8"/>
<circle cx="317.00" cy="94.50" r="2.15" fill="#ec2214" fill-opacity="0.8"/>
<circle cx="331.20" cy="91.80" r="2.15" fill="#ec2214" fill-opacity="0.8"/>
<circle cx="328.90" cy="95.20" r="2.15" fill="#ec2214" fill-opacity="0.8"/>
<circle cx="328.30" cy="98.30" r="2.15" fill="#ec2214" fill-opacity="0.8"/>
<circle cx="323.90" cy="100.80" r="2.15" fill="#ec2214" fill-opacity="0.8"/>
<circle cx="320.80" cy="102.70" r="2.15" fill="#ec2214" fill-opacity="0.8"/>
<circle cx="330.20" cy="107.70" r="2.15" fill="#ec2214" fill-opacity="0.8"/>
<circle cx="331.40" cy="110.20" r="2.15" fill="#ec2214" fill-opacity="0.8"/>
<circle cx="322.00" cy="111.50" r="2.15" fill="#ec2214" fill-opacity="0.8"/>
<circle cx="325.80" cy="112.10" r="2.15" fill="#ec2214" fill-opacity="0.8"/>
<circle cx="317.60" cy="109.60" r="2.15" fill="#ec2214" fill-opacity="0.8"/>
<circle cx="333.00" cy="112.50" r="2.15" fill="#ec2214" fill-opacity="0.8"/>
<circle cx="327.00" cy="113.00" r="2.15" fill="#ec2214" fill-opacity="0.8"/>
<circle cx="305.20" cy="11.40" r="2.15" fill="#ec2214" fill-opacity="0.8"/>
<circle cx="307.00" cy="41.90" r="2.15" fill="#ec2214" fill-opacity="0.8"/>
<circle cx="309.60" cy="41.90" r="2.15" fill="#ec2214" fill-opacity="0.8"/>
<circle cx="311.40" cy="41.90" r="2.15" fill="#ec2214" fill-opacity="0.8"/>
<circle cx="300.00" cy="43.60" r="2.15" fill="#ec2214" fill-opacity="0.8"/>
<circle cx="305.20" cy="51.50" r="2.15" fill="#ec2214" fill-opacity="0.8"/>
<circle cx="309.60" cy="57.20" r="2.15" fill="#ec2214" fill-opacity="0.8"/>
<circle cx="302.60" cy="63.30" r="2.15" fill="#ec2214" fill-opacity="0.8"/>
<circle cx="305.20" cy="63.30" r="2.15" fill="#ec2214" fill-opacity="0.8"/>
<circle cx="307.00" cy="62.40" r="2.15" fill="#ec2214" fill-opacity="0.8"/>
<circle cx="305.20" cy="69.50" r="2.15" fill="#ec2214" fill-opacity="0.8"/>
<circle cx="283.40" cy="11.30" r="2.15" fill="#4b5cb8"/>
<circle cx="276.50" cy="101.00" r="2.15" fill="#4b5cb8"/>
<circle cx="284.80" cy="101.00" r="2.15" fill="#4b5cb8"/>
<line x1="208.80" y1="113.80" x2="378.50" y2="113.80" stroke="#2a2a2a" stroke-width="0.75" stroke-dasharray="15.8 15.9"/>
<line x1="288.20" y1="167.00" x2="288.20" y2="4.00" stroke="#444" stroke-width="0.65" stroke-dasharray="15.6 16.4"/>
<line x1="300.00" y1="167.00" x2="300.00" y2="4.00" stroke="#444" stroke-width="0.65" stroke-dasharray="15.6 16.4"/>
<line x1="281.00" y1="11.30" x2="282.00" y2="11.30" stroke="#222" stroke-width="0.45"/>
<line x1="311.40" y1="26.60" x2="310.00" y2="40.00" stroke="#222" stroke-width="0.45"/>
<line x1="327.00" y1="29.60" x2="312.50" y2="40.50" stroke="#222" stroke-width="0.45"/>
<line x1="316.00" y1="36.50" x2="311.00" y2="40.50" stroke="#222" stroke-width="0.45"/>
<line x1="319.50" y1="39.60" x2="309.80" y2="55.50" stroke="#222" stroke-width="0.45"/>
<line x1="310.00" y1="49.20" x2="306.50" y2="50.50" stroke="#222" stroke-width="0.45"/>
<line x1="311.30" y1="61.30" x2="307.80" y2="62.40" stroke="#222" stroke-width="0.45"/>
<line x1="293.50" y1="68.40" x2="302.00" y2="64.30" stroke="#222" stroke-width="0.45"/>
<line x1="288.50" y1="60.80" x2="301.00" y2="63.00" stroke="#222" stroke-width="0.45"/>
<line x1="304.50" y1="55.00" x2="303.50" y2="61.50" stroke="#222" stroke-width="0.45"/>
<line x1="317.50" y1="46.80" x2="311.00" y2="50.00" stroke="#222" stroke-width="0.45"/>
<line x1="281.50" y1="95.60" x2="284.00" y2="99.30" stroke="#222" stroke-width="0.45"/>
<text x="230.20" y="13.30" font-size="3.3" stroke="#1a1a1a" stroke-width="0.06" fill="#1a1a1a" textLength="48.80" lengthAdjust="spacingAndGlyphs">Pfal_TVDVERP[15.9949]DFK</text>
<text x="307.60" y="13.30" font-size="3.3" stroke="#1a1a1a" stroke-width="0.06" fill="#1a1a1a" textLength="59.80" lengthAdjust="spacingAndGlyphs">Sh2_M[15.9949]LAEDAITKSDEVSR</text>
<text x="286.20" y="27.10" font-size="3.3" stroke="#1a1a1a" stroke-width="0.06" fill="#1a1a1a" textLength="56.60" lengthAdjust="spacingAndGlyphs">Upc-69_TQTAAPM[15.9949]NSYR</text>
<text x="327.70" y="30.90" font-size="3.3" stroke="#1a1a1a" stroke-width="0.06" fill="#1a1a1a" textLength="43.90" lengthAdjust="spacingAndGlyphs">sls_LQPVGDP[15.9949]MR</text>
<text x="259.00" y="37.20" font-size="3.3" stroke="#1a1a1a" stroke-width="0.06" fill="#1a1a1a" textLength="55.50" lengthAdjust="spacingAndGlyphs">sls_SM[15.9949]LDTDHPGALEK</text>
<text x="319.60" y="40.90" font-size="3.3" stroke="#1a1a1a" stroke-width="0.06" fill="#1a1a1a" textLength="53.30" lengthAdjust="spacingAndGlyphs">Actn_DATEM[15.9949]LGSGDFR</text>
<text x="262.80" y="48.20" font-size="3.3" stroke="#1a1a1a" stroke-width="0.06" fill="#1a1a1a" textLength="54.70" lengthAdjust="spacingAndGlyphs">Pfk_DLGQDYYHM[15.9949]NSK</text>
<text x="309.50" y="50.50" font-size="3.3" stroke="#1a1a1a" stroke-width="0.06" fill="#1a1a1a" textLength="53.40" lengthAdjust="spacingAndGlyphs">sls_SM[15.9949]AGSYEENLQEK</text>
<text x="241.50" y="56.70" font-size="3.3" stroke="#1a1a1a" stroke-width="0.06" fill="#1a1a1a" textLength="62.70" lengthAdjust="spacingAndGlyphs">Pgk_SVVLM[15.9949]SHLGRPDGNK</text>
<text x="212.00" y="62.30" font-size="3.3" stroke="#1a1a1a" stroke-width="0.06" fill="#1a1a1a" textLength="76.00" lengthAdjust="spacingAndGlyphs">Idm_IKGETTGM[15.9949]M[15.9949]YGGMR</text>
<text x="311.40" y="62.80" font-size="3.3" stroke="#1a1a1a" stroke-width="0.06" fill="#1a1a1a" textLength="67.80" lengthAdjust="spacingAndGlyphs">Snap25_NM[15.9949]NLDM[15.9949]GSS</text>
<text x="235.20" y="71.00" font-size="3.3" stroke="#1a1a1a" stroke-width="0.06" fill="#1a1a1a" textLength="57.80" lengthAdjust="spacingAndGlyphs">Mhc_HM[15.9949]ELNTYADKER</text>
<text x="231.50" y="97.00" font-size="3.3" stroke="#1a1a1a" stroke-width="0.06" fill="#1a1a1a" textLength="49.70" lengthAdjust="spacingAndGlyphs">Pfal_TVDVERP[15.9949]DFK</text>
<text x="221.80" y="104.40" font-size="3.3" stroke="#1a1a1a" stroke-width="0.06" fill="#1a1a1a" textLength="52.50" lengthAdjust="spacingAndGlyphs">Pfal_TVDVERP[15.9949]DFKR</text>
<text x="207.00" y="19.10" font-size="6.8" stroke="#555" stroke-width="0.1" text-anchor="end" fill="#555">4</text>
<text x="207.00" y="54.90" font-size="6.8" stroke="#555" stroke-width="0.1" text-anchor="end" fill="#555">3</text>
<text x="207.00" y="90.70" font-size="6.8" stroke="#555" stroke-width="0.1" text-anchor="end" fill="#555">2</text>
<text x="207.00" y="126.50" font-size="6.8" stroke="#555" stroke-width="0.1" text-anchor="end" fill="#555">1</text>
<text x="207.00" y="162.30" font-size="6.8" stroke="#555" stroke-width="0.1" text-anchor="end" fill="#555">0</text>
<text x="247.30" y="174.10" font-size="5.4" stroke="#555" stroke-width="0.1" text-anchor="middle" fill="#555">-4</text>
<text x="294.10" y="174.10" font-size="5.4" stroke="#555" stroke-width="0.1" text-anchor="middle" fill="#555">0</text>
<text x="340.90" y="174.10" font-size="5.4" stroke="#555" stroke-width="0.1" text-anchor="middle" fill="#555">4</text>
<text x="264.4" y="181.9" font-size="7.6" fill="#111" stroke="#111" stroke-width="0.15">Log<tspan font-size="5" dy="1.6">2</tspan><tspan dy="-1.6">Fold  Change</tspan></text>
<text transform="translate(198.6 108.5) rotate(-90)" font-size="7.6" fill="#111" stroke="#111" stroke-width="0.15">-Log<tspan font-size="5" dy="1.6">10</tspan><tspan dy="-1.6"> P</tspan><tspan font-size="4.6" dy="1.6">adj</tspan></text>
<circle cx="389.70" cy="81.50" r="2.20" fill="#4b5cb8"/>
<circle cx="389.70" cy="89.20" r="2.20" fill="#ec2214" fill-opacity="0.8"/>
<text x="396.00" y="83.50" font-size="5.8" stroke="#1a1a1a" stroke-width="0.15" fill="#1a1a1a" textLength="28.70" lengthAdjust="spacingAndGlyphs">Decreased</text>
<text x="396.00" y="91.20" font-size="5.8" stroke="#1a1a1a" stroke-width="0.15" fill="#1a1a1a" textLength="25.60" lengthAdjust="spacingAndGlyphs">Increased</text>
<line x1="551.08" y1="16.10" x2="551.08" y2="164.70" stroke="#ececec" stroke-width="0.45"/>
<line x1="582.65" y1="16.10" x2="582.65" y2="164.70" stroke="#ececec" stroke-width="0.45"/>
<line x1="614.22" y1="16.10" x2="614.22" y2="164.70" stroke="#ececec" stroke-width="0.45"/>
<line x1="645.78" y1="16.10" x2="645.78" y2="164.70" stroke="#ececec" stroke-width="0.45"/>
<line x1="535.30" y1="16.10" x2="535.30" y2="164.70" stroke="#e3e3e3" stroke-width="0.55"/>
<line x1="566.87" y1="16.10" x2="566.87" y2="164.70" stroke="#e3e3e3" stroke-width="0.55"/>
<line x1="598.43" y1="16.10" x2="598.43" y2="164.70" stroke="#e3e3e3" stroke-width="0.55"/>
<line x1="630.00" y1="16.10" x2="630.00" y2="164.70" stroke="#e3e3e3" stroke-width="0.55"/>
<line x1="531.60" y1="25.90" x2="660.80" y2="25.90" stroke="#e3e3e3" stroke-width="0.55"/>
<line x1="531.60" y1="42.10" x2="660.80" y2="42.10" stroke="#e3e3e3" stroke-width="0.55"/>
<line x1="531.60" y1="58.30" x2="660.80" y2="58.30" stroke="#e3e3e3" stroke-width="0.55"/>
<line x1="531.60" y1="74.40" x2="660.80" y2="74.40" stroke="#e3e3e3" stroke-width="0.55"/>
<line x1="531.60" y1="90.60" x2="660.80" y2="90.60" stroke="#e3e3e3" stroke-width="0.55"/>
<line x1="531.60" y1="106.50" x2="660.80" y2="106.50" stroke="#e3e3e3" stroke-width="0.55"/>
<line x1="531.60" y1="122.70" x2="660.80" y2="122.70" stroke="#e3e3e3" stroke-width="0.55"/>
<line x1="531.60" y1="138.80" x2="660.80" y2="138.80" stroke="#e3e3e3" stroke-width="0.55"/>
<line x1="531.60" y1="154.90" x2="660.80" y2="154.90" stroke="#e3e3e3" stroke-width="0.55"/>
<rect x="531.60" y="16.10" width="129.20" height="148.60" fill="none" stroke="#3a3a3a" stroke-width="0.55"/>
<text x="529.30" y="27.80" font-size="4.75" stroke="#e8242b" stroke-width="0.05" text-anchor="end" fill="#e8242b" textLength="54.70" lengthAdjust="spacingAndGlyphs">Oxidative phosphorylation</text>
<line x1="529.60" y1="25.90" x2="531.60" y2="25.90" stroke="#333" stroke-width="0.4"/>
<text x="529.30" y="44.00" font-size="4.75" stroke="#111" stroke-width="0.05" text-anchor="end" fill="#111" textLength="59.90" lengthAdjust="spacingAndGlyphs">Cytoskeleton in muscle cells</text>
<line x1="529.60" y1="42.10" x2="531.60" y2="42.10" stroke="#333" stroke-width="0.4"/>
<text x="529.30" y="60.20" font-size="4.75" stroke="#111" stroke-width="0.05" text-anchor="end" fill="#111" textLength="41.40" lengthAdjust="spacingAndGlyphs">Carbon metabolism</text>
<line x1="529.60" y1="58.30" x2="531.60" y2="58.30" stroke="#333" stroke-width="0.4"/>
<text x="529.30" y="76.30" font-size="4.75" stroke="#e8242b" stroke-width="0.05" text-anchor="end" fill="#e8242b" textLength="62.20" lengthAdjust="spacingAndGlyphs">Glycolysis / Gluconeogenesis</text>
<line x1="529.60" y1="74.40" x2="531.60" y2="74.40" stroke="#333" stroke-width="0.4"/>
<text x="529.30" y="92.50" font-size="4.75" stroke="#111" stroke-width="0.05" text-anchor="end" fill="#111" textLength="25.50" lengthAdjust="spacingAndGlyphs">Phagosome</text>
<line x1="529.60" y1="90.60" x2="531.60" y2="90.60" stroke="#333" stroke-width="0.4"/>
<text x="529.30" y="108.40" font-size="4.75" stroke="#111" stroke-width="0.05" text-anchor="end" fill="#111" textLength="58.50" lengthAdjust="spacingAndGlyphs">Biosynthesis of amino acids</text>
<line x1="529.60" y1="106.50" x2="531.60" y2="106.50" stroke="#333" stroke-width="0.4"/>
<text x="529.30" y="124.60" font-size="4.75" stroke="#111" stroke-width="0.05" text-anchor="end" fill="#111" textLength="30.70" lengthAdjust="spacingAndGlyphs">Motor proteins</text>
<line x1="529.60" y1="122.70" x2="531.60" y2="122.70" stroke="#333" stroke-width="0.4"/>
<text x="529.30" y="140.70" font-size="4.75" stroke="#111" stroke-width="0.05" text-anchor="end" fill="#111" textLength="66.40" lengthAdjust="spacingAndGlyphs">Starch and sucrose metabolism</text>
<line x1="529.60" y1="138.80" x2="531.60" y2="138.80" stroke="#333" stroke-width="0.4"/>
<text x="529.30" y="156.80" font-size="4.75" stroke="#111" stroke-width="0.05" text-anchor="end" fill="#111" textLength="59.60" lengthAdjust="spacingAndGlyphs">Pentose phosphate pathway</text>
<line x1="529.60" y1="154.90" x2="531.60" y2="154.90" stroke="#333" stroke-width="0.4"/>
<line x1="535.30" y1="164.70" x2="535.30" y2="165.70" stroke="#333" stroke-width="0.4"/>
<text x="535.30" y="170.10" font-size="4.8" text-anchor="middle" fill="#222">0.05</text>
<line x1="566.87" y1="164.70" x2="566.87" y2="165.70" stroke="#333" stroke-width="0.4"/>
<text x="566.87" y="170.10" font-size="4.8" text-anchor="middle" fill="#222">0.10</text>
<line x1="598.43" y1="164.70" x2="598.43" y2="165.70" stroke="#333" stroke-width="0.4"/>
<text x="598.43" y="170.10" font-size="4.8" text-anchor="middle" fill="#222">0.15</text>
<line x1="630.00" y1="164.70" x2="630.00" y2="165.70" stroke="#333" stroke-width="0.4"/>
<text x="630.00" y="170.10" font-size="4.8" text-anchor="middle" fill="#222">0.20</text>
<text x="598.40" y="175.80" font-size="4.85" text-anchor="middle" fill="#111" textLength="35.20" lengthAdjust="spacingAndGlyphs">Enrichment ratio</text>
<text x="531.60" y="12.60" font-size="5.25" fill="#111" textLength="64.70" lengthAdjust="spacingAndGlyphs">KEGG Pathway Enrichment</text>
<circle cx="654.80" cy="25.90" r="3.70" fill="#e05a5d" stroke="#1a1a1a" stroke-width="0.55"/>
<circle cx="629.60" cy="42.10" r="3.30" fill="#e05a5d" stroke="#1a1a1a" stroke-width="0.55"/>
<circle cx="621.30" cy="58.30" r="3.30" fill="#e05a5d" stroke="#1a1a1a" stroke-width="0.55"/>
<circle cx="587.70" cy="74.40" r="2.90" fill="#e05a5d" stroke="#1a1a1a" stroke-width="0.55"/>
<circle cx="587.80" cy="90.60" r="2.90" fill="#e05a5d" stroke="#1a1a1a" stroke-width="0.55"/>
<circle cx="579.30" cy="106.50" r="2.80" fill="#df5b5f" stroke="#1a1a1a" stroke-width="0.55"/>
<circle cx="570.70" cy="122.70" r="2.70" fill="#2f6db4" stroke="#1a1a1a" stroke-width="0.55"/>
<circle cx="545.90" cy="138.80" r="1.90" fill="#d85e6a" stroke="#1a1a1a" stroke-width="0.55"/>
<circle cx="537.10" cy="154.90" r="1.45" fill="#5a5ea8" stroke="#1a1a1a" stroke-width="0.55"/>
<text x="666.60" y="55.80" font-size="4.3" fill="#222" textLength="15.10" lengthAdjust="spacingAndGlyphs">p.adjust</text>
<defs><linearGradient id="padj" x1="0" y1="0" x2="0" y2="1"><stop offset="0" stop-color="#e3595c"/><stop offset="0.5" stop-color="#a86583"/><stop offset="1" stop-color="#3a78c0"/></linearGradient></defs>
<rect x="667.30" y="57.60" width="7.30" height="33.90" fill="url(#padj)"/>
<line x1="667.30" y1="69.60" x2="668.60" y2="69.60" stroke="#fff" stroke-width="0.4"/>
<line x1="673.30" y1="69.60" x2="674.60" y2="69.60" stroke="#fff" stroke-width="0.4"/>
<line x1="667.30" y1="81.50" x2="668.60" y2="81.50" stroke="#fff" stroke-width="0.4"/>
<line x1="673.30" y1="81.50" x2="674.60" y2="81.50" stroke="#fff" stroke-width="0.4"/>
<text x="676.50" y="70.90" font-size="3.4" fill="#222">0.005</text>
<text x="676.50" y="82.80" font-size="3.4" fill="#222">0.010</text>
<text x="667.30" y="104.20" font-size="4.2" fill="#222">Count</text>
<circle cx="671.60" cy="110.40" r="1.90" fill="none" stroke="#111" stroke-width="0.5"/>
<text x="677.60" y="111.60" font-size="3.4" fill="#222">5</text>
<circle cx="671.60" cy="117.40" r="2.70" fill="none" stroke="#111" stroke-width="0.5"/>
<text x="677.60" y="118.60" font-size="3.4" fill="#222">10</text>
<circle cx="671.60" cy="125.40" r="3.40" fill="none" stroke="#111" stroke-width="0.5"/>
<text x="677.60" y="126.60" font-size="3.4" fill="#222">15</text>
<rect x="10.90" y="220.80" width="6.45" height="4.30" fill="#bbbce2"/>
<rect x="17.35" y="220.80" width="6.45" height="4.30" fill="#f5a3a3"/>
<rect x="23.80" y="220.80" width="6.45" height="4.30" fill="#ef5e5e"/>
<rect x="30.25" y="220.80" width="6.45" height="4.30" fill="#bbbce2"/>
<rect x="36.70" y="220.80" width="6.45" height="4.30" fill="#f5a3a3"/>
<rect x="43.15" y="220.80" width="6.45" height="4.30" fill="#4a56b2"/>
<rect x="49.60" y="220.80" width="6.45" height="4.30" fill="#4a56b2"/>
<rect x="56.05" y="220.80" width="6.45" height="4.30" fill="#bbbce2"/>
<rect x="62.50" y="220.80" width="6.45" height="4.30" fill="#767dc5"/>
<rect x="68.95" y="220.80" width="6.45" height="4.30" fill="#bbbce2"/>
<rect x="75.40" y="220.80" width="6.45" height="4.30" fill="#4a56b2"/>
<rect x="81.85" y="220.80" width="6.45" height="4.30" fill="#4a56b2"/>
<rect x="10.90" y="225.10" width="6.45" height="4.30" fill="#5d65b9"/>
<rect x="17.35" y="225.10" width="6.45" height="4.30" fill="#4a56b2"/>
<rect x="23.80" y="225.10" width="6.45" height="4.30" fill="#5d65b9"/>
<rect x="30.25" y="225.10" width="6.45" height="4.30" fill="#767dc5"/>
<rect x="36.70" y="225.10" width="6.45" height="4.30" fill="#5d65b9"/>
<rect x="43.15" y="225.10" width="6.45" height="4.30" fill="#5d65b9"/>
<rect x="49.60" y="225.10" width="6.45" height="4.30" fill="#f5a3a3"/>
<rect x="56.05" y="225.10" width="6.45" height="4.30" fill="#dfdff1"/>
<rect x="62.50" y="225.10" width="6.45" height="4.30" fill="#f9d0d0"/>
<rect x="68.95" y="225.10" width="6.45" height="4.30" fill="#bbbce2"/>
<rect x="75.40" y="225.10" width="6.45" height="4.30" fill="#f9d0d0"/>
<rect x="81.85" y="225.10" width="6.45" height="4.30" fill="#f5a3a3"/>
<rect x="10.90" y="229.40" width="6.45" height="4.30" fill="#5d65b9"/>
<rect x="17.35" y="229.40" width="6.45" height="4.30" fill="#5d65b9"/>
<rect x="23.80" y="229.40" width="6.45" height="4.30" fill="#767dc5"/>
<rect x="30.25" y="229.40" width="6.45" height="4.30" fill="#767dc5"/>
<rect x="36.70" y="229.40" width="6.45" height="4.30" fill="#5d65b9"/>
<rect x="43.15" y="229.40" width="6.45" height="4.30" fill="#5d65b9"/>
<rect x="49.60" y="229.40" width="6.45" height="4.30" fill="#f5a3a3"/>
<rect x="56.05" y="229.40" width="6.45" height="4.30" fill="#dfdff1"/>
<rect x="62.50" y="229.40" width="6.45" height="4.30" fill="#bbbce2"/>
<rect x="68.95" y="229.40" width="6.45" height="4.30" fill="#bbbce2"/>
<rect x="75.40" y="229.40" width="6.45" height="4.30" fill="#faf8fb"/>
<rect x="81.85" y="229.40" width="6.45" height="4.30" fill="#eb2727"/>
<rect x="10.90" y="233.70" width="6.45" height="4.30" fill="#4a56b2"/>
<rect x="17.35" y="233.70" width="6.45" height="4.30" fill="#4a56b2"/>
<rect x="23.80" y="233.70" width="6.45" height="4.30" fill="#767dc5"/>
<rect x="30.25" y="233.70" width="6.45" height="4.30" fill="#767dc5"/>
<rect x="36.70" y="233.70" width="6.45" height="4.30" fill="#959ad3"/>
<rect x="43.15" y="233.70" width="6.45" height="4.30" fill="#bbbce2"/>
<rect x="49.60" y="233.70" width="6.45" height="4.30" fill="#dfdff1"/>
<rect x="56.05" y="233.70" width="6.45" height="4.30" fill="#f5a3a3"/>
<rect x="62.50" y="233.70" width="6.45" height="4.30" fill="#f5a3a3"/>
<rect x="68.95" y="233.70" width="6.45" height="4.30" fill="#dfdff1"/>
<rect x="75.40" y="233.70" width="6.45" height="4.30" fill="#f5a3a3"/>
<rect x="81.85" y="233.70" width="6.45" height="4.30" fill="#4a56b2"/>
<rect x="10.90" y="238.00" width="6.45" height="4.30" fill="#4a56b2"/>
<rect x="17.35" y="238.00" width="6.45" height="4.30" fill="#4a56b2"/>
<rect x="23.80" y="238.00" width="6.45" height="4.30" fill="#5d65b9"/>
<rect x="30.25" y="238.00" width="6.45" height="4.30" fill="#4a56b2"/>
<rect x="36.70" y="238.00" width="6.45" height="4.30" fill="#767dc5"/>
<rect x="43.15" y="238.00" width="6.45" height="4.30" fill="#767dc5"/>
<rect x="49.60" y="238.00" width="6.45" height="4.30" fill="#f9d0d0"/>
<rect x="56.05" y="238.00" width="6.45" height="4.30" fill="#f9d0d0"/>
<rect x="62.50" y="238.00" width="6.45" height="4.30" fill="#f9d0d0"/>
<rect x="68.95" y="238.00" width="6.45" height="4.30" fill="#dfdff1"/>
<rect x="75.40" y="238.00" width="6.45" height="4.30" fill="#f5a3a3"/>
<rect x="81.85" y="238.00" width="6.45" height="4.30" fill="#dfdff1"/>
<rect x="10.90" y="242.30" width="6.45" height="4.30" fill="#4a56b2"/>
<rect x="17.35" y="242.30" width="6.45" height="4.30" fill="#4a56b2"/>
<rect x="23.80" y="242.30" width="6.45" height="4.30" fill="#959ad3"/>
<rect x="30.25" y="242.30" width="6.45" height="4.30" fill="#4a56b2"/>
<rect x="36.70" y="242.30" width="6.45" height="4.30" fill="#dfdff1"/>
<rect x="43.15" y="242.30" width="6.45" height="4.30" fill="#bbbce2"/>
<rect x="49.60" y="242.30" width="6.45" height="4.30" fill="#dfdff1"/>
<rect x="56.05" y="242.30" width="6.45" height="4.30" fill="#faf8fb"/>
<rect x="62.50" y="242.30" width="6.45" height="4.30" fill="#4a56b2"/>
<rect x="68.95" y="242.30" width="6.45" height="4.30" fill="#ef5e5e"/>
<rect x="75.40" y="242.30" width="6.45" height="4.30" fill="#f5a3a3"/>
<rect x="81.85" y="242.30" width="6.45" height="4.30" fill="#dfdff1"/>
<rect x="10.90" y="246.60" width="6.45" height="4.30" fill="#4a56b2"/>
<rect x="17.35" y="246.60" width="6.45" height="4.30" fill="#767dc5"/>
<rect x="23.80" y="246.60" width="6.45" height="4.30" fill="#4a56b2"/>
<rect x="30.25" y="246.60" width="6.45" height="4.30" fill="#5d65b9"/>
<rect x="36.70" y="246.60" width="6.45" height="4.30" fill="#faf8fb"/>
<rect x="43.15" y="246.60" width="6.45" height="4.30" fill="#bbbce2"/>
<rect x="49.60" y="246.60" width="6.45" height="4.30" fill="#faf8fb"/>
<rect x="56.05" y="246.60" width="6.45" height="4.30" fill="#bbbce2"/>
<rect x="62.50" y="246.60" width="6.45" height="4.30" fill="#faf8fb"/>
<rect x="68.95" y="246.60" width="6.45" height="4.30" fill="#eb2727"/>
<rect x="75.40" y="246.60" width="6.45" height="4.30" fill="#faf8fb"/>
<rect x="81.85" y="246.60" width="6.45" height="4.30" fill="#767dc5"/>
<rect x="10.90" y="250.90" width="6.45" height="4.30" fill="#4a56b2"/>
<rect x="17.35" y="250.90" width="6.45" height="4.30" fill="#767dc5"/>
<rect x="23.80" y="250.90" width="6.45" height="4.30" fill="#4a56b2"/>
<rect x="30.25" y="250.90" width="6.45" height="4.30" fill="#bbbce2"/>
<rect x="36.70" y="250.90" width="6.45" height="4.30" fill="#bbbce2"/>
<rect x="43.15" y="250.90" width="6.45" height="4.30" fill="#bbbce2"/>
<rect x="49.60" y="250.90" width="6.45" height="4.30" fill="#dfdff1"/>
<rect x="56.05" y="250.90" width="6.45" height="4.30" fill="#bbbce2"/>
<rect x="62.50" y="250.90" width="6.45" height="4.30" fill="#bbbce2"/>
<rect x="68.95" y="250.90" width="6.45" height="4.30" fill="#eb2727"/>
<rect x="75.40" y="250.90" width="6.45" height="4.30" fill="#f9d0d0"/>
<rect x="81.85" y="250.90" width="6.45" height="4.30" fill="#bbbce2"/>
<rect x="10.90" y="255.20" width="6.45" height="4.30" fill="#5d65b9"/>
<rect x="17.35" y="255.20" width="6.45" height="4.30" fill="#5d65b9"/>
<rect x="23.80" y="255.20" width="6.45" height="4.30" fill="#767dc5"/>
<rect x="30.25" y="255.20" width="6.45" height="4.30" fill="#5d65b9"/>
<rect x="36.70" y="255.20" width="6.45" height="4.30" fill="#767dc5"/>
<rect x="43.15" y="255.20" width="6.45" height="4.30" fill="#767dc5"/>
<rect x="49.60" y="255.20" width="6.45" height="4.30" fill="#dfdff1"/>
<rect x="56.05" y="255.20" width="6.45" height="4.30" fill="#faf8fb"/>
<rect x="62.50" y="255.20" width="6.45" height="4.30" fill="#dfdff1"/>
<rect x="68.95" y="255.20" width="6.45" height="4.30" fill="#eb2727"/>
<rect x="75.40" y="255.20" width="6.45" height="4.30" fill="#faf8fb"/>
<rect x="81.85" y="255.20" width="6.45" height="4.30" fill="#bbbce2"/>
<rect x="10.90" y="259.50" width="6.45" height="4.30" fill="#5d65b9"/>
<rect x="17.35" y="259.50" width="6.45" height="4.30" fill="#767dc5"/>
<rect x="23.80" y="259.50" width="6.45" height="4.30" fill="#767dc5"/>
<rect x="30.25" y="259.50" width="6.45" height="4.30" fill="#5d65b9"/>
<rect x="36.70" y="259.50" width="6.45" height="4.30" fill="#959ad3"/>
<rect x="43.15" y="259.50" width="6.45" height="4.30" fill="#5d65b9"/>
<rect x="49.60" y="259.50" width="6.45" height="4.30" fill="#dfdff1"/>
<rect x="56.05" y="259.50" width="6.45" height="4.30" fill="#dfdff1"/>
<rect x="62.50" y="259.50" width="6.45" height="4.30" fill="#bbbce2"/>
<rect x="68.95" y="259.50" width="6.45" height="4.30" fill="#eb2727"/>
<rect x="75.40" y="259.50" width="6.45" height="4.30" fill="#dfdff1"/>
<rect x="81.85" y="259.50" width="6.45" height="4.30" fill="#dfdff1"/>
<rect x="10.90" y="263.80" width="6.45" height="4.30" fill="#4a56b2"/>
<rect x="17.35" y="263.80" width="6.45" height="4.30" fill="#5d65b9"/>
<rect x="23.80" y="263.80" width="6.45" height="4.30" fill="#767dc5"/>
<rect x="30.25" y="263.80" width="6.45" height="4.30" fill="#767dc5"/>
<rect x="36.70" y="263.80" width="6.45" height="4.30" fill="#959ad3"/>
<rect x="43.15" y="263.80" width="6.45" height="4.30" fill="#bbbce2"/>
<rect x="49.60" y="263.80" width="6.45" height="4.30" fill="#dfdff1"/>
<rect x="56.05" y="263.80" width="6.45" height="4.30" fill="#dfdff1"/>
<rect x="62.50" y="263.80" width="6.45" height="4.30" fill="#dfdff1"/>
<rect x="68.95" y="263.80" width="6.45" height="4.30" fill="#eb2727"/>
<rect x="75.40" y="263.80" width="6.45" height="4.30" fill="#faf8fb"/>
<rect x="81.85" y="263.80" width="6.45" height="4.30" fill="#959ad3"/>
<rect x="10.90" y="268.10" width="6.45" height="4.30" fill="#4a56b2"/>
<rect x="17.35" y="268.10" width="6.45" height="4.30" fill="#5d65b9"/>
<rect x="23.80" y="268.10" width="6.45" height="4.30" fill="#767dc5"/>
<rect x="30.25" y="268.10" width="6.45" height="4.30" fill="#bbbce2"/>
<rect x="36.70" y="268.10" width="6.45" height="4.30" fill="#959ad3"/>
<rect x="43.15" y="268.10" width="6.45" height="4.30" fill="#767dc5"/>
<rect x="49.60" y="268.10" width="6.45" height="4.30" fill="#faf8fb"/>
<rect x="56.05" y="268.10" width="6.45" height="4.30" fill="#bbbce2"/>
<rect x="62.50" y="268.10" width="6.45" height="4.30" fill="#dfdff1"/>
<rect x="68.95" y="268.10" width="6.45" height="4.30" fill="#eb2727"/>
<rect x="75.40" y="268.10" width="6.45" height="4.30" fill="#dfdff1"/>
<rect x="81.85" y="268.10" width="6.45" height="4.30" fill="#dfdff1"/>
<rect x="10.90" y="272.40" width="6.45" height="4.30" fill="#959ad3"/>
<rect x="17.35" y="272.40" width="6.45" height="4.30" fill="#4a56b2"/>
<rect x="23.80" y="272.40" width="6.45" height="4.30" fill="#bbbce2"/>
<rect x="30.25" y="272.40" width="6.45" height="4.30" fill="#5d65b9"/>
<rect x="36.70" y="272.40" width="6.45" height="4.30" fill="#959ad3"/>
<rect x="43.15" y="272.40" width="6.45" height="4.30" fill="#767dc5"/>
<rect x="49.60" y="272.40" width="6.45" height="4.30" fill="#bbbce2"/>
<rect x="56.05" y="272.40" width="6.45" height="4.30" fill="#bbbce2"/>
<rect x="62.50" y="272.40" width="6.45" height="4.30" fill="#bbbce2"/>
<rect x="68.95" y="272.40" width="6.45" height="4.30" fill="#eb2727"/>
<rect x="75.40" y="272.40" width="6.45" height="4.30" fill="#f9d0d0"/>
<rect x="81.85" y="272.40" width="6.45" height="4.30" fill="#dfdff1"/>
<rect x="10.90" y="276.70" width="6.45" height="4.30" fill="#767dc5"/>
<rect x="17.35" y="276.70" width="6.45" height="4.30" fill="#5d65b9"/>
<rect x="23.80" y="276.70" width="6.45" height="4.30" fill="#4a56b2"/>
<rect x="30.25" y="276.70" width="6.45" height="4.30" fill="#959ad3"/>
<rect x="36.70" y="276.70" width="6.45" height="4.30" fill="#959ad3"/>
<rect x="43.15" y="276.70" width="6.45" height="4.30" fill="#959ad3"/>
<rect x="49.60" y="276.70" width="6.45" height="4.30" fill="#dfdff1"/>
<rect x="56.05" y="276.70" width="6.45" height="4.30" fill="#dfdff1"/>
<rect x="62.50" y="276.70" width="6.45" height="4.30" fill="#bbbce2"/>
<rect x="68.95" y="276.70" width="6.45" height="4.30" fill="#eb2727"/>
<rect x="75.40" y="276.70" width="6.45" height="4.30" fill="#f9d0d0"/>
<rect x="81.85" y="276.70" width="6.45" height="4.30" fill="#959ad3"/>
<rect x="10.90" y="281.00" width="6.45" height="4.30" fill="#959ad3"/>
<rect x="17.35" y="281.00" width="6.45" height="4.30" fill="#5d65b9"/>
<rect x="23.80" y="281.00" width="6.45" height="4.30" fill="#767dc5"/>
<rect x="30.25" y="281.00" width="6.45" height="4.30" fill="#5d65b9"/>
<rect x="36.70" y="281.00" width="6.45" height="4.30" fill="#959ad3"/>
<rect x="43.15" y="281.00" width="6.45" height="4.30" fill="#767dc5"/>
<rect x="49.60" y="281.00" width="6.45" height="4.30" fill="#dfdff1"/>
<rect x="56.05" y="281.00" width="6.45" height="4.30" fill="#dfdff1"/>
<rect x="62.50" y="281.00" width="6.45" height="4.30" fill="#bbbce2"/>
<rect x="68.95" y="281.00" width="6.45" height="4.30" fill="#eb2727"/>
<rect x="75.40" y="281.00" width="6.45" height="4.30" fill="#dfdff1"/>
<rect x="81.85" y="281.00" width="6.45" height="4.30" fill="#bbbce2"/>
<rect x="10.90" y="285.30" width="6.45" height="4.30" fill="#4a56b2"/>
<rect x="17.35" y="285.30" width="6.45" height="4.30" fill="#4a56b2"/>
<rect x="23.80" y="285.30" width="6.45" height="4.30" fill="#767dc5"/>
<rect x="30.25" y="285.30" width="6.45" height="4.30" fill="#959ad3"/>
<rect x="36.70" y="285.30" width="6.45" height="4.30" fill="#767dc5"/>
<rect x="43.15" y="285.30" width="6.45" height="4.30" fill="#5d65b9"/>
<rect x="49.60" y="285.30" width="6.45" height="4.30" fill="#dfdff1"/>
<rect x="56.05" y="285.30" width="6.45" height="4.30" fill="#faf8fb"/>
<rect x="62.50" y="285.30" width="6.45" height="4.30" fill="#faf8fb"/>
<rect x="68.95" y="285.30" width="6.45" height="4.30" fill="#f5a3a3"/>
<rect x="75.40" y="285.30" width="6.45" height="4.30" fill="#f5a3a3"/>
<rect x="81.85" y="285.30" width="6.45" height="4.30" fill="#faf8fb"/>
<rect x="10.90" y="289.60" width="6.45" height="4.30" fill="#4a56b2"/>
<rect x="17.35" y="289.60" width="6.45" height="4.30" fill="#5d65b9"/>
<rect x="23.80" y="289.60" width="6.45" height="4.30" fill="#767dc5"/>
<rect x="30.25" y="289.60" width="6.45" height="4.30" fill="#5d65b9"/>
<rect x="36.70" y="289.60" width="6.45" height="4.30" fill="#5d65b9"/>
<rect x="43.15" y="289.60" width="6.45" height="4.30" fill="#767dc5"/>
<rect x="49.60" y="289.60" width="6.45" height="4.30" fill="#f9d0d0"/>
<rect x="56.05" y="289.60" width="6.45" height="4.30" fill="#faf8fb"/>
<rect x="62.50" y="289.60" width="6.45" height="4.30" fill="#faf8fb"/>
<rect x="68.95" y="289.60" width="6.45" height="4.30" fill="#f9d0d0"/>
<rect x="75.40" y="289.60" width="6.45" height="4.30" fill="#ef5e5e"/>
<rect x="81.85" y="289.60" width="6.45" height="4.30" fill="#faf8fb"/>
<rect x="10.90" y="293.90" width="6.45" height="4.30" fill="#4a56b2"/>
<rect x="17.35" y="293.90" width="6.45" height="4.30" fill="#5d65b9"/>
<rect x="23.80" y="293.90" width="6.45" height="4.30" fill="#767dc5"/>
<rect x="30.25" y="293.90" width="6.45" height="4.30" fill="#767dc5"/>
<rect x="36.70" y="293.90" width="6.45" height="4.30" fill="#5d65b9"/>
<rect x="43.15" y="293.90" width="6.45" height="4.30" fill="#767dc5"/>
<rect x="49.60" y="293.90" width="6.45" height="4.30" fill="#faf8fb"/>
<rect x="56.05" y="293.90" width="6.45" height="4.30" fill="#f9d0d0"/>
<rect x="62.50" y="293.90" width="6.45" height="4.30" fill="#faf8fb"/>
<rect x="68.95" y="293.90" width="6.45" height="4.30" fill="#ef5e5e"/>
<rect x="75.40" y="293.90" width="6.45" height="4.30" fill="#faf8fb"/>
<rect x="81.85" y="293.90" width="6.45" height="4.30" fill="#bbbce2"/>
<rect x="10.90" y="298.20" width="6.45" height="4.30" fill="#4a56b2"/>
<rect x="17.35" y="298.20" width="6.45" height="4.30" fill="#5d65b9"/>
<rect x="23.80" y="298.20" width="6.45" height="4.30" fill="#5d65b9"/>
<rect x="30.25" y="298.20" width="6.45" height="4.30" fill="#959ad3"/>
<rect x="36.70" y="298.20" width="6.45" height="4.30" fill="#767dc5"/>
<rect x="43.15" y="298.20" width="6.45" height="4.30" fill="#767dc5"/>
<rect x="49.60" y="298.20" width="6.45" height="4.30" fill="#f9d0d0"/>
<rect x="56.05" y="298.20" width="6.45" height="4.30" fill="#f9d0d0"/>
<rect x="62.50" y="298.20" width="6.45" height="4.30" fill="#faf8fb"/>
<rect x="68.95" y="298.20" width="6.45" height="4.30" fill="#ef5e5e"/>
<rect x="75.40" y="298.20" width="6.45" height="4.30" fill="#dfdff1"/>
<rect x="81.85" y="298.20" width="6.45" height="4.30" fill="#bbbce2"/>
<rect x="10.90" y="302.50" width="6.45" height="4.30" fill="#5d65b9"/>
<rect x="17.35" y="302.50" width="6.45" height="4.30" fill="#5d65b9"/>
<rect x="23.80" y="302.50" width="6.45" height="4.30" fill="#5d65b9"/>
<rect x="30.25" y="302.50" width="6.45" height="4.30" fill="#767dc5"/>
<rect x="36.70" y="302.50" width="6.45" height="4.30" fill="#959ad3"/>
<rect x="43.15" y="302.50" width="6.45" height="4.30" fill="#959ad3"/>
<rect x="49.60" y="302.50" width="6.45" height="4.30" fill="#f9d0d0"/>
<rect x="56.05" y="302.50" width="6.45" height="4.30" fill="#f5a3a3"/>
<rect x="62.50" y="302.50" width="6.45" height="4.30" fill="#dfdff1"/>
<rect x="68.95" y="302.50" width="6.45" height="4.30" fill="#eb2727"/>
<rect x="75.40" y="302.50" width="6.45" height="4.30" fill="#bbbce2"/>
<rect x="81.85" y="302.50" width="6.45" height="4.30" fill="#bbbce2"/>
<rect x="10.90" y="306.80" width="6.45" height="4.30" fill="#5d65b9"/>
<rect x="17.35" y="306.80" width="6.45" height="4.30" fill="#5d65b9"/>
<rect x="23.80" y="306.80" width="6.45" height="4.30" fill="#767dc5"/>
<rect x="30.25" y="306.80" width="6.45" height="4.30" fill="#5d65b9"/>
<rect x="36.70" y="306.80" width="6.45" height="4.30" fill="#767dc5"/>
<rect x="43.15" y="306.80" width="6.45" height="4.30" fill="#767dc5"/>
<rect x="49.60" y="306.80" width="6.45" height="4.30" fill="#f5a3a3"/>
<rect x="56.05" y="306.80" width="6.45" height="4.30" fill="#f5a3a3"/>
<rect x="62.50" y="306.80" width="6.45" height="4.30" fill="#bbbce2"/>
<rect x="68.95" y="306.80" width="6.45" height="4.30" fill="#ef5e5e"/>
<rect x="75.40" y="306.80" width="6.45" height="4.30" fill="#bbbce2"/>
<rect x="81.85" y="306.80" width="6.45" height="4.30" fill="#dfdff1"/>
<rect x="10.90" y="311.10" width="6.45" height="4.30" fill="#4a56b2"/>
<rect x="17.35" y="311.10" width="6.45" height="4.30" fill="#959ad3"/>
<rect x="23.80" y="311.10" width="6.45" height="4.30" fill="#4a56b2"/>
<rect x="30.25" y="311.10" width="6.45" height="4.30" fill="#767dc5"/>
<rect x="36.70" y="311.10" width="6.45" height="4.30" fill="#bbbce2"/>
<rect x="43.15" y="311.10" width="6.45" height="4.30" fill="#bbbce2"/>
<rect x="49.60" y="311.10" width="6.45" height="4.30" fill="#faf8fb"/>
<rect x="56.05" y="311.10" width="6.45" height="4.30" fill="#f5a3a3"/>
<rect x="62.50" y="311.10" width="6.45" height="4.30" fill="#dfdff1"/>
<rect x="68.95" y="311.10" width="6.45" height="4.30" fill="#f5a3a3"/>
<rect x="75.40" y="311.10" width="6.45" height="4.30" fill="#faf8fb"/>
<rect x="81.85" y="311.10" width="6.45" height="4.30" fill="#faf8fb"/>
<rect x="10.90" y="315.40" width="6.45" height="4.30" fill="#4a56b2"/>
<rect x="17.35" y="315.40" width="6.45" height="4.30" fill="#5d65b9"/>
<rect x="23.80" y="315.40" width="6.45" height="4.30" fill="#767dc5"/>
<rect x="30.25" y="315.40" width="6.45" height="4.30" fill="#5d65b9"/>
<rect x="36.70" y="315.40" width="6.45" height="4.30" fill="#767dc5"/>
<rect x="43.15" y="315.40" width="6.45" height="4.30" fill="#5d65b9"/>
<rect x="49.60" y="315.40" width="6.45" height="4.30" fill="#f9d0d0"/>
<rect x="56.05" y="315.40" width="6.45" height="4.30" fill="#f5a3a3"/>
<rect x="62.50" y="315.40" width="6.45" height="4.30" fill="#faf8fb"/>
<rect x="68.95" y="315.40" width="6.45" height="4.30" fill="#f5a3a3"/>
<rect x="75.40" y="315.40" width="6.45" height="4.30" fill="#dfdff1"/>
<rect x="81.85" y="315.40" width="6.45" height="4.30" fill="#f9d0d0"/>
<rect x="10.90" y="319.70" width="6.45" height="4.30" fill="#bbbce2"/>
<rect x="17.35" y="319.70" width="6.45" height="4.30" fill="#5d65b9"/>
<rect x="23.80" y="319.70" width="6.45" height="4.30" fill="#767dc5"/>
<rect x="30.25" y="319.70" width="6.45" height="4.30" fill="#4a56b2"/>
<rect x="36.70" y="319.70" width="6.45" height="4.30" fill="#4a56b2"/>
<rect x="43.15" y="319.70" width="6.45" height="4.30" fill="#faf8fb"/>
<rect x="49.60" y="319.70" width="6.45" height="4.30" fill="#ef5e5e"/>
<rect x="56.05" y="319.70" width="6.45" height="4.30" fill="#f5a3a3"/>
<rect x="62.50" y="319.70" width="6.45" height="4.30" fill="#bbbce2"/>
<rect x="68.95" y="319.70" width="6.45" height="4.30" fill="#f5a3a3"/>
<rect x="75.40" y="319.70" width="6.45" height="4.30" fill="#5d65b9"/>
<rect x="81.85" y="319.70" width="6.45" height="4.30" fill="#faf8fb"/>
<rect x="10.90" y="324.00" width="6.45" height="4.30" fill="#767dc5"/>
<rect x="17.35" y="324.00" width="6.45" height="4.30" fill="#4a56b2"/>
<rect x="23.80" y="324.00" width="6.45" height="4.30" fill="#767dc5"/>
<rect x="30.25" y="324.00" width="6.45" height="4.30" fill="#959ad3"/>
<rect x="36.70" y="324.00" width="6.45" height="4.30" fill="#bbbce2"/>
<rect x="43.15" y="324.00" width="6.45" height="4.30" fill="#bbbce2"/>
<rect x="49.60" y="324.00" width="6.45" height="4.30" fill="#dfdff1"/>
<rect x="56.05" y="324.00" width="6.45" height="4.30" fill="#f5a3a3"/>
<rect x="62.50" y="324.00" width="6.45" height="4.30" fill="#faf8fb"/>
<rect x="68.95" y="324.00" width="6.45" height="4.30" fill="#ef5e5e"/>
<rect x="75.40" y="324.00" width="6.45" height="4.30" fill="#bbbce2"/>
<rect x="81.85" y="324.00" width="6.45" height="4.30" fill="#767dc5"/>
<rect x="10.90" y="328.30" width="6.45" height="4.30" fill="#bbbce2"/>
<rect x="17.35" y="328.30" width="6.45" height="4.30" fill="#4a56b2"/>
<rect x="23.80" y="328.30" width="6.45" height="4.30" fill="#bbbce2"/>
<rect x="30.25" y="328.30" width="6.45" height="4.30" fill="#4a56b2"/>
<rect x="36.70" y="328.30" width="6.45" height="4.30" fill="#4a56b2"/>
<rect x="43.15" y="328.30" width="6.45" height="4.30" fill="#bbbce2"/>
<rect x="49.60" y="328.30" width="6.45" height="4.30" fill="#f9d0d0"/>
<rect x="56.05" y="328.30" width="6.45" height="4.30" fill="#f5a3a3"/>
<rect x="62.50" y="328.30" width="6.45" height="4.30" fill="#dfdff1"/>
<rect x="68.95" y="328.30" width="6.45" height="4.30" fill="#f5a3a3"/>
<rect x="75.40" y="328.30" width="6.45" height="4.30" fill="#f9d0d0"/>
<rect x="81.85" y="328.30" width="6.45" height="4.30" fill="#4a56b2"/>
<rect x="10.90" y="332.60" width="6.45" height="4.30" fill="#959ad3"/>
<rect x="17.35" y="332.60" width="6.45" height="4.30" fill="#4a56b2"/>
<rect x="23.80" y="332.60" width="6.45" height="4.30" fill="#dfdff1"/>
<rect x="30.25" y="332.60" width="6.45" height="4.30" fill="#bbbce2"/>
<rect x="36.70" y="332.60" width="6.45" height="4.30" fill="#4a56b2"/>
<rect x="43.15" y="332.60" width="6.45" height="4.30" fill="#5d65b9"/>
<rect x="49.60" y="332.60" width="6.45" height="4.30" fill="#f9d0d0"/>
<rect x="56.05" y="332.60" width="6.45" height="4.30" fill="#faf8fb"/>
<rect x="62.50" y="332.60" width="6.45" height="4.30" fill="#4a56b2"/>
<rect x="68.95" y="332.60" width="6.45" height="4.30" fill="#ef5e5e"/>
<rect x="75.40" y="332.60" width="6.45" height="4.30" fill="#faf8fb"/>
<rect x="81.85" y="332.60" width="6.45" height="4.30" fill="#faf8fb"/>
<rect x="10.90" y="336.90" width="6.45" height="4.30" fill="#bbbce2"/>
<rect x="17.35" y="336.90" width="6.45" height="4.30" fill="#4a56b2"/>
<rect x="23.80" y="336.90" width="6.45" height="4.30" fill="#faf8fb"/>
<rect x="30.25" y="336.90" width="6.45" height="4.30" fill="#4a56b2"/>
<rect x="36.70" y="336.90" width="6.45" height="4.30" fill="#959ad3"/>
<rect x="43.15" y="336.90" width="6.45" height="4.30" fill="#4a56b2"/>
<rect x="49.60" y="336.90" width="6.45" height="4.30" fill="#f9d0d0"/>
<rect x="56.05" y="336.90" width="6.45" height="4.30" fill="#959ad3"/>
<rect x="62.50" y="336.90" width="6.45" height="4.30" fill="#faf8fb"/>
<rect x="68.95" y="336.90" width="6.45" height="4.30" fill="#ef5e5e"/>
<rect x="75.40" y="336.90" width="6.45" height="4.30" fill="#dfdff1"/>
<rect x="81.85" y="336.90" width="6.45" height="4.30" fill="#bbbce2"/>
<rect x="10.90" y="341.20" width="6.45" height="4.30" fill="#959ad3"/>
<rect x="17.35" y="341.20" width="6.45" height="4.30" fill="#959ad3"/>
<rect x="23.80" y="341.20" width="6.45" height="4.30" fill="#bbbce2"/>
<rect x="30.25" y="341.20" width="6.45" height="4.30" fill="#4a56b2"/>
<rect x="36.70" y="341.20" width="6.45" height="4.30" fill="#4a56b2"/>
<rect x="43.15" y="341.20" width="6.45" height="4.30" fill="#959ad3"/>
<rect x="49.60" y="341.20" width="6.45" height="4.30" fill="#f9d0d0"/>
<rect x="56.05" y="341.20" width="6.45" height="4.30" fill="#f9d0d0"/>
<rect x="62.50" y="341.20" width="6.45" height="4.30" fill="#959ad3"/>
<rect x="68.95" y="341.20" width="6.45" height="4.30" fill="#eb2727"/>
<rect x="75.40" y="341.20" width="6.45" height="4.30" fill="#767dc5"/>
<rect x="81.85" y="341.20" width="6.45" height="4.30" fill="#bbbce2"/>
<rect x="10.90" y="345.50" width="6.45" height="4.30" fill="#767dc5"/>
<rect x="17.35" y="345.50" width="6.45" height="4.30" fill="#5d65b9"/>
<rect x="23.80" y="345.50" width="6.45" height="4.30" fill="#767dc5"/>
<rect x="30.25" y="345.50" width="6.45" height="4.30" fill="#5d65b9"/>
<rect x="36.70" y="345.50" width="6.45" height="4.30" fill="#5d65b9"/>
<rect x="43.15" y="345.50" width="6.45" height="4.30" fill="#bbbce2"/>
<rect x="49.60" y="345.50" width="6.45" height="4.30" fill="#f9d0d0"/>
<rect x="56.05" y="345.50" width="6.45" height="4.30" fill="#faf8fb"/>
<rect x="62.50" y="345.50" width="6.45" height="4.30" fill="#959ad3"/>
<rect x="68.95" y="345.50" width="6.45" height="4.30" fill="#eb2727"/>
<rect x="75.40" y="345.50" width="6.45" height="4.30" fill="#bbbce2"/>
<rect x="81.85" y="345.50" width="6.45" height="4.30" fill="#bbbce2"/>
<rect x="10.90" y="349.80" width="6.45" height="4.30" fill="#767dc5"/>
<rect x="17.35" y="349.80" width="6.45" height="4.30" fill="#5d65b9"/>
<rect x="23.80" y="349.80" width="6.45" height="4.30" fill="#bbbce2"/>
<rect x="30.25" y="349.80" width="6.45" height="4.30" fill="#4a56b2"/>
<rect x="36.70" y="349.80" width="6.45" height="4.30" fill="#5d65b9"/>
<rect x="43.15" y="349.80" width="6.45" height="4.30" fill="#959ad3"/>
<rect x="49.60" y="349.80" width="6.45" height="4.30" fill="#5d65b9"/>
<rect x="56.05" y="349.80" width="6.45" height="4.30" fill="#f9d0d0"/>
<rect x="62.50" y="349.80" width="6.45" height="4.30" fill="#faf8fb"/>
<rect x="68.95" y="349.80" width="6.45" height="4.30" fill="#eb2727"/>
<rect x="75.40" y="349.80" width="6.45" height="4.30" fill="#bbbce2"/>
<rect x="81.85" y="349.80" width="6.45" height="4.30" fill="#dfdff1"/>
<rect x="10.90" y="354.10" width="6.45" height="4.30" fill="#5d65b9"/>
<rect x="17.35" y="354.10" width="6.45" height="4.30" fill="#767dc5"/>
<rect x="23.80" y="354.10" width="6.45" height="4.30" fill="#767dc5"/>
<rect x="30.25" y="354.10" width="6.45" height="4.30" fill="#4a56b2"/>
<rect x="36.70" y="354.10" width="6.45" height="4.30" fill="#5d65b9"/>
<rect x="43.15" y="354.10" width="6.45" height="4.30" fill="#5d65b9"/>
<rect x="49.60" y="354.10" width="6.45" height="4.30" fill="#faf8fb"/>
<rect x="56.05" y="354.10" width="6.45" height="4.30" fill="#f9d0d0"/>
<rect x="62.50" y="354.10" width="6.45" height="4.30" fill="#959ad3"/>
<rect x="68.95" y="354.10" width="6.45" height="4.30" fill="#eb2727"/>
<rect x="75.40" y="354.10" width="6.45" height="4.30" fill="#f9d0d0"/>
<rect x="81.85" y="354.10" width="6.45" height="4.30" fill="#bbbce2"/>
<rect x="10.90" y="358.40" width="6.45" height="4.30" fill="#5d65b9"/>
<rect x="17.35" y="358.40" width="6.45" height="4.30" fill="#767dc5"/>
<rect x="23.80" y="358.40" width="6.45" height="4.30" fill="#767dc5"/>
<rect x="30.25" y="358.40" width="6.45" height="4.30" fill="#4a56b2"/>
<rect x="36.70" y="358.40" width="6.45" height="4.30" fill="#5d65b9"/>
<rect x="43.15" y="358.40" width="6.45" height="4.30" fill="#959ad3"/>
<rect x="49.60" y="358.40" width="6.45" height="4.30" fill="#dfdff1"/>
<rect x="56.05" y="358.40" width="6.45" height="4.30" fill="#f5a3a3"/>
<rect x="62.50" y="358.40" width="6.45" height="4.30" fill="#959ad3"/>
<rect x="68.95" y="358.40" width="6.45" height="4.30" fill="#eb2727"/>
<rect x="75.40" y="358.40" width="6.45" height="4.30" fill="#dfdff1"/>
<rect x="81.85" y="358.40" width="6.45" height="4.30" fill="#dfdff1"/>
<rect x="10.90" y="362.70" width="6.45" height="4.30" fill="#959ad3"/>
<rect x="17.35" y="362.70" width="6.45" height="4.30" fill="#767dc5"/>
<rect x="23.80" y="362.70" width="6.45" height="4.30" fill="#dfdff1"/>
<rect x="30.25" y="362.70" width="6.45" height="4.30" fill="#5d65b9"/>
<rect x="36.70" y="362.70" width="6.45" height="4.30" fill="#4a56b2"/>
<rect x="43.15" y="362.70" width="6.45" height="4.30" fill="#4a56b2"/>
<rect x="49.60" y="362.70" width="6.45" height="4.30" fill="#959ad3"/>
<rect x="56.05" y="362.70" width="6.45" height="4.30" fill="#dfdff1"/>
<rect x="62.50" y="362.70" width="6.45" height="4.30" fill="#bbbce2"/>
<rect x="68.95" y="362.70" width="6.45" height="4.30" fill="#eb2727"/>
<rect x="75.40" y="362.70" width="6.45" height="4.30" fill="#faf8fb"/>
<rect x="81.85" y="362.70" width="6.45" height="4.30" fill="#faf8fb"/>
<rect x="10.90" y="367.00" width="6.45" height="4.30" fill="#767dc5"/>
<rect x="17.35" y="367.00" width="6.45" height="4.30" fill="#959ad3"/>
<rect x="23.80" y="367.00" width="6.45" height="4.30" fill="#bbbce2"/>
<rect x="30.25" y="367.00" width="6.45" height="4.30" fill="#4a56b2"/>
<rect x="36.70" y="367.00" width="6.45" height="4.30" fill="#4a56b2"/>
<rect x="43.15" y="367.00" width="6.45" height="4.30" fill="#4a56b2"/>
<rect x="49.60" y="367.00" width="6.45" height="4.30" fill="#dfdff1"/>
<rect x="56.05" y="367.00" width="6.45" height="4.30" fill="#f9d0d0"/>
<rect x="62.50" y="367.00" width="6.45" height="4.30" fill="#dfdff1"/>
<rect x="68.95" y="367.00" width="6.45" height="4.30" fill="#ef5e5e"/>
<rect x="75.40" y="367.00" width="6.45" height="4.30" fill="#faf8fb"/>
<rect x="81.85" y="367.00" width="6.45" height="4.30" fill="#dfdff1"/>
<line x1="10.90" y1="220.80" x2="10.90" y2="371.30" stroke="#9a9a9a" stroke-width="0.35"/>
<line x1="17.35" y1="220.80" x2="17.35" y2="371.30" stroke="#9a9a9a" stroke-width="0.35"/>
<line x1="23.80" y1="220.80" x2="23.80" y2="371.30" stroke="#9a9a9a" stroke-width="0.35"/>
<line x1="30.25" y1="220.80" x2="30.25" y2="371.30" stroke="#9a9a9a" stroke-width="0.35"/>
<line x1="36.70" y1="220.80" x2="36.70" y2="371.30" stroke="#9a9a9a" stroke-width="0.35"/>
<line x1="43.15" y1="220.80" x2="43.15" y2="371.30" stroke="#9a9a9a" stroke-width="0.35"/>
<line x1="49.60" y1="220.80" x2="49.60" y2="371.30" stroke="#9a9a9a" stroke-width="0.35"/>
<line x1="56.05" y1="220.80" x2="56.05" y2="371.30" stroke="#9a9a9a" stroke-width="0.35"/>
<line x1="62.50" y1="220.80" x2="62.50" y2="371.30" stroke="#9a9a9a" stroke-width="0.35"/>
<line x1="68.95" y1="220.80" x2="68.95" y2="371.30" stroke="#9a9a9a" stroke-width="0.35"/>
<line x1="75.40" y1="220.80" x2="75.40" y2="371.30" stroke="#9a9a9a" stroke-width="0.35"/>
<line x1="81.85" y1="220.80" x2="81.85" y2="371.30" stroke="#9a9a9a" stroke-width="0.35"/>
<line x1="88.30" y1="220.80" x2="88.30" y2="371.30" stroke="#9a9a9a" stroke-width="0.35"/>
<line x1="10.90" y1="220.80" x2="88.30" y2="220.80" stroke="#9a9a9a" stroke-width="0.35"/>
<line x1="10.90" y1="225.10" x2="88.30" y2="225.10" stroke="#9a9a9a" stroke-width="0.35"/>
<line x1="10.90" y1="229.40" x2="88.30" y2="229.40" stroke="#9a9a9a" stroke-width="0.35"/>
<line x1="10.90" y1="233.70" x2="88.30" y2="233.70" stroke="#9a9a9a" stroke-width="0.35"/>
<line x1="10.90" y1="238.00" x2="88.30" y2="238.00" stroke="#9a9a9a" stroke-width="0.35"/>
<line x1="10.90" y1="242.30" x2="88.30" y2="242.30" stroke="#9a9a9a" stroke-width="0.35"/>
<line x1="10.90" y1="246.60" x2="88.30" y2="246.60" stroke="#9a9a9a" stroke-width="0.35"/>
<line x1="10.90" y1="250.90" x2="88.30" y2="250.90" stroke="#9a9a9a" stroke-width="0.35"/>
<line x1="10.90" y1="255.20" x2="88.30" y2="255.20" stroke="#9a9a9a" stroke-width="0.35"/>
<line x1="10.90" y1="259.50" x2="88.30" y2="259.50" stroke="#9a9a9a" stroke-width="0.35"/>
<line x1="10.90" y1="263.80" x2="88.30" y2="263.80" stroke="#9a9a9a" stroke-width="0.35"/>
<line x1="10.90" y1="268.10" x2="88.30" y2="268.10" stroke="#9a9a9a" stroke-width="0.35"/>
<line x1="10.90" y1="272.40" x2="88.30" y2="272.40" stroke="#9a9a9a" stroke-width="0.35"/>
<line x1="10.90" y1="276.70" x2="88.30" y2="276.70" stroke="#9a9a9a" stroke-width="0.35"/>
<line x1="10.90" y1="281.00" x2="88.30" y2="281.00" stroke="#9a9a9a" stroke-width="0.35"/>
<line x1="10.90" y1="285.30" x2="88.30" y2="285.30" stroke="#9a9a9a" stroke-width="0.35"/>
<line x1="10.90" y1="289.60" x2="88.30" y2="289.60" stroke="#9a9a9a" stroke-width="0.35"/>
<line x1="10.90" y1="293.90" x2="88.30" y2="293.90" stroke="#9a9a9a" stroke-width="0.35"/>
<line x1="10.90" y1="298.20" x2="88.30" y2="298.20" stroke="#9a9a9a" stroke-width="0.35"/>
<line x1="10.90" y1="302.50" x2="88.30" y2="302.50" stroke="#9a9a9a" stroke-width="0.35"/>
<line x1="10.90" y1="306.80" x2="88.30" y2="306.80" stroke="#9a9a9a" stroke-width="0.35"/>
<line x1="10.90" y1="311.10" x2="88.30" y2="311.10" stroke="#9a9a9a" stroke-width="0.35"/>
<line x1="10.90" y1="315.40" x2="88.30" y2="315.40" stroke="#9a9a9a" stroke-width="0.35"/>
<line x1="10.90" y1="319.70" x2="88.30" y2="319.70" stroke="#9a9a9a" stroke-width="0.35"/>
<line x1="10.90" y1="324.00" x2="88.30" y2="324.00" stroke="#9a9a9a" stroke-width="0.35"/>
<line x1="10.90" y1="328.30" x2="88.30" y2="328.30" stroke="#9a9a9a" stroke-width="0.35"/>
<line x1="10.90" y1="332.60" x2="88.30" y2="332.60" stroke="#9a9a9a" stroke-width="0.35"/>
<line x1="10.90" y1="336.90" x2="88.30" y2="336.90" stroke="#9a9a9a" stroke-width="0.35"/>
<line x1="10.90" y1="341.20" x2="88.30" y2="341.20" stroke="#9a9a9a" stroke-width="0.35"/>
<line x1="10.90" y1="345.50" x2="88.30" y2="345.50" stroke="#9a9a9a" stroke-width="0.35"/>
<line x1="10.90" y1="349.80" x2="88.30" y2="349.80" stroke="#9a9a9a" stroke-width="0.35"/>
<line x1="10.90" y1="354.10" x2="88.30" y2="354.10" stroke="#9a9a9a" stroke-width="0.35"/>
<line x1="10.90" y1="358.40" x2="88.30" y2="358.40" stroke="#9a9a9a" stroke-width="0.35"/>
<line x1="10.90" y1="362.70" x2="88.30" y2="362.70" stroke="#9a9a9a" stroke-width="0.35"/>
<line x1="10.90" y1="367.00" x2="88.30" y2="367.00" stroke="#9a9a9a" stroke-width="0.35"/>
<line x1="10.90" y1="371.30" x2="88.30" y2="371.30" stroke="#9a9a9a" stroke-width="0.35"/>
<rect x="10.90" y="215.20" width="6.45" height="4.50" fill="#4bc4cf"/>
<rect x="17.35" y="215.20" width="6.45" height="4.50" fill="#4bc4cf"/>
<rect x="23.80" y="215.20" width="6.45" height="4.50" fill="#4bc4cf"/>
<rect x="30.25" y="215.20" width="6.45" height="4.50" fill="#4bc4cf"/>
<rect x="36.70" y="215.20" width="6.45" height="4.50" fill="#4bc4cf"/>
<rect x="43.15" y="215.20" width="6.45" height="4.50" fill="#4bc4cf"/>
<rect x="49.60" y="215.20" width="6.45" height="4.50" fill="#f39a95"/>
<rect x="56.05" y="215.20" width="6.45" height="4.50" fill="#f39a95"/>
<rect x="62.50" y="215.20" width="6.45" height="4.50" fill="#f39a95"/>
<rect x="68.95" y="215.20" width="6.45" height="4.50" fill="#f39a95"/>
<rect x="75.40" y="215.20" width="6.45" height="4.50" fill="#f39a95"/>
<rect x="81.85" y="215.20" width="6.45" height="4.50" fill="#f39a95"/>
<line x1="10.90" y1="215.20" x2="10.90" y2="219.70" stroke="#9a9a9a" stroke-width="0.35"/>
<line x1="17.35" y1="215.20" x2="17.35" y2="219.70" stroke="#9a9a9a" stroke-width="0.35"/>
<line x1="23.80" y1="215.20" x2="23.80" y2="219.70" stroke="#9a9a9a" stroke-width="0.35"/>
<line x1="30.25" y1="215.20" x2="30.25" y2="219.70" stroke="#9a9a9a" stroke-width="0.35"/>
<line x1="36.70" y1="215.20" x2="36.70" y2="219.70" stroke="#9a9a9a" stroke-width="0.35"/>
<line x1="43.15" y1="215.20" x2="43.15" y2="219.70" stroke="#9a9a9a" stroke-width="0.35"/>
<line x1="49.60" y1="215.20" x2="49.60" y2="219.70" stroke="#9a9a9a" stroke-width="0.35"/>
<line x1="56.05" y1="215.20" x2="56.05" y2="219.70" stroke="#9a9a9a" stroke-width="0.35"/>
<line x1="62.50" y1="215.20" x2="62.50" y2="219.70" stroke="#9a9a9a" stroke-width="0.35"/>
<line x1="68.95" y1="215.20" x2="68.95" y2="219.70" stroke="#9a9a9a" stroke-width="0.35"/>
<line x1="75.40" y1="215.20" x2="75.40" y2="219.70" stroke="#9a9a9a" stroke-width="0.35"/>
<line x1="81.85" y1="215.20" x2="81.85" y2="219.70" stroke="#9a9a9a" stroke-width="0.35"/>
<line x1="88.30" y1="215.20" x2="88.30" y2="219.70" stroke="#9a9a9a" stroke-width="0.35"/>
<line x1="10.90" y1="215.20" x2="88.30" y2="215.20" stroke="#9a9a9a" stroke-width="0.35"/>
<line x1="10.90" y1="219.70" x2="88.30" y2="219.70" stroke="#9a9a9a" stroke-width="0.35"/>
<text x="89.90" y="218.70" font-size="4.2" stroke="#111" stroke-width="0.15" font-weight="bold" fill="#111" textLength="18.90" lengthAdjust="spacingAndGlyphs">Condition</text>
<text x="89.90" y="224.20" font-size="3.5" stroke="#1a1a1a" stroke-width="0.12" fill="#1a1a1a" textLength="66.10" lengthAdjust="spacingAndGlyphs" style="text-rendering:geometricPrecision">PyK_GNKAGKP[15.9949]KICATQMLESMIVK</text>
<text x="89.90" y="228.50" font-size="3.5" stroke="#1a1a1a" stroke-width="0.12" fill="#1a1a1a" textLength="52.90" lengthAdjust="spacingAndGlyphs" style="text-rendering:geometricPrecision">Fdh_LTGQAGHM[15.9949]EGTSK</text>
<text x="89.90" y="232.80" font-size="3.5" stroke="#1a1a1a" stroke-width="0.12" fill="#1a1a1a" textLength="71.80" lengthAdjust="spacingAndGlyphs" style="text-rendering:geometricPrecision">PyK_M[15.9949]M[15.9949]KCTGNM[15.9949]HAIR</text>
<text x="89.90" y="237.10" font-size="3.5" stroke="#1a1a1a" stroke-width="0.12" fill="#1a1a1a" textLength="55.90" lengthAdjust="spacingAndGlyphs" style="text-rendering:geometricPrecision">Actn_GILAADESGPTM[15.9949]GSR</text>
<text x="89.90" y="241.40" font-size="3.5" stroke="#1a1a1a" stroke-width="0.12" fill="#1a1a1a" textLength="64.70" lengthAdjust="spacingAndGlyphs" style="text-rendering:geometricPrecision">PyK_M[15.9949]NFSHGSHEYHAAVVANVR</text>
<text x="89.90" y="245.70" font-size="3.5" stroke="#1a1a1a" stroke-width="0.12" fill="#1a1a1a" textLength="85.60" lengthAdjust="spacingAndGlyphs" style="text-rendering:geometricPrecision">Pfk_LAVM[15.9949]HGAPAC[125.0477]DM[15.9949]NAAVR</text>
<text x="89.90" y="250.00" font-size="3.5" stroke="#1a1a1a" stroke-width="0.12" fill="#1a1a1a" textLength="117.00" lengthAdjust="spacingAndGlyphs" style="text-rendering:geometricPrecision">Gapdh2_KVISNPASAPM[15.9949]FVQ[125.0477]GVNLDAYKPDM[15.9949]K</text>
<text x="89.90" y="254.30" font-size="3.5" stroke="#1a1a1a" stroke-width="0.12" fill="#1a1a1a" textLength="118.20" lengthAdjust="spacingAndGlyphs" style="text-rendering:geometricPrecision">Gapdh2_KVISNPASAPM[15.9949]FVQ[125.0477]GVNLDAYKPDM[15.9949]K</text>
<text x="89.90" y="258.60" font-size="3.5" stroke="#1a1a1a" stroke-width="0.12" fill="#1a1a1a" textLength="54.90" lengthAdjust="spacingAndGlyphs" style="text-rendering:geometricPrecision">Pgi_FAKVTGGDGM[15.9949]LSNGK</text>
<text x="89.90" y="262.90" font-size="3.5" stroke="#1a1a1a" stroke-width="0.12" fill="#1a1a1a" textLength="56.70" lengthAdjust="spacingAndGlyphs" style="text-rendering:geometricPrecision">Pfk_VPLM[15.9949]EC[125.0477]VER</text>
<text x="89.90" y="267.20" font-size="3.5" stroke="#1a1a1a" stroke-width="0.12" fill="#1a1a1a" textLength="76.80" lengthAdjust="spacingAndGlyphs" style="text-rendering:geometricPrecision">Actn_ALSDWNYPLEC[125.0477]LLKPNM[15.9949]VTAGGAK</text>
<text x="89.90" y="271.50" font-size="3.5" stroke="#1a1a1a" stroke-width="0.12" fill="#1a1a1a" textLength="63.00" lengthAdjust="spacingAndGlyphs" style="text-rendering:geometricPrecision">Pfk_M[15.9949]LGNMGGGGGPTPFDR</text>
<text x="89.90" y="275.80" font-size="3.5" stroke="#1a1a1a" stroke-width="0.12" fill="#1a1a1a" textLength="89.30" lengthAdjust="spacingAndGlyphs" style="text-rendering:geometricPrecision">PyK_ASKPNPC[125.0477]TQM[15.9949]LESM[15.9949]IVK</text>
<text x="89.90" y="280.10" font-size="3.5" stroke="#1a1a1a" stroke-width="0.12" fill="#1a1a1a" textLength="83.10" lengthAdjust="spacingAndGlyphs" style="text-rendering:geometricPrecision">PyK_IEMGGGM[15.9949]HLGEGEAGGNM[15.9949]AR</text>
<text x="89.90" y="284.40" font-size="3.5" stroke="#1a1a1a" stroke-width="0.12" fill="#1a1a1a" textLength="88.10" lengthAdjust="spacingAndGlyphs" style="text-rendering:geometricPrecision">Eno_LAVM[15.9949]QEFM[15.9949]LPTGAFSFTEAM[15.9949]K</text>
<text x="89.90" y="288.70" font-size="3.5" stroke="#1a1a1a" stroke-width="0.12" fill="#1a1a1a" textLength="75.50" lengthAdjust="spacingAndGlyphs" style="text-rendering:geometricPrecision">Pfk_M[15.9949]NLGNM[15.9949]DGGGGPTPFDR</text>
<text x="89.90" y="293.00" font-size="3.5" stroke="#1a1a1a" stroke-width="0.12" fill="#1a1a1a" textLength="55.90" lengthAdjust="spacingAndGlyphs" style="text-rendering:geometricPrecision">Pgk_SVVLM[15.9949]SHLGRPDGNK</text>
<text x="89.90" y="297.30" font-size="3.5" stroke="#1a1a1a" stroke-width="0.12" fill="#1a1a1a" textLength="68.70" lengthAdjust="spacingAndGlyphs" style="text-rendering:geometricPrecision">Pfk_DKSLAVTTSGGGGGM[15.9949]NAAVR</text>
<text x="89.90" y="301.60" font-size="3.5" stroke="#1a1a1a" stroke-width="0.12" fill="#1a1a1a" textLength="46.30" lengthAdjust="spacingAndGlyphs" style="text-rendering:geometricPrecision">Pgam1_HM[15.9949]EFD</text>
<text x="89.90" y="305.90" font-size="3.5" stroke="#1a1a1a" stroke-width="0.12" fill="#1a1a1a" textLength="52.70" lengthAdjust="spacingAndGlyphs" style="text-rendering:geometricPrecision">Pgi_CAM[15.9949]FSGQHINTEWR</text>
<text x="89.90" y="310.20" font-size="3.5" stroke="#1a1a1a" stroke-width="0.12" fill="#1a1a1a" textLength="43.10" lengthAdjust="spacingAndGlyphs" style="text-rendering:geometricPrecision">Pgi_TFM[15.9949]VMGR</text>
<text x="89.90" y="314.50" font-size="3.5" stroke="#1a1a1a" stroke-width="0.12" fill="#1a1a1a" textLength="68.70" lengthAdjust="spacingAndGlyphs" style="text-rendering:geometricPrecision">PyK_DKSGLLFSVSQEVGM[15.9949]FASFR</text>
<text x="89.90" y="318.80" font-size="3.5" stroke="#1a1a1a" stroke-width="0.12" fill="#1a1a1a" textLength="49.50" lengthAdjust="spacingAndGlyphs" style="text-rendering:geometricPrecision">Pfk_DLGQDYYHM[15.9949]NSK</text>
<text x="89.90" y="323.10" font-size="3.5" stroke="#1a1a1a" stroke-width="0.12" fill="#1a1a1a" textLength="97.10" lengthAdjust="spacingAndGlyphs" style="text-rendering:geometricPrecision">Pfk_EQYGGM[15.9949]VDGSC[125.0477]QEAMNNASVSGIHR</text>
<text x="89.90" y="327.40" font-size="3.5" stroke="#1a1a1a" stroke-width="0.12" fill="#1a1a1a" textLength="55.90" lengthAdjust="spacingAndGlyphs" style="text-rendering:geometricPrecision">Pgam1_IDAM[15.9949]NVYDYVR</text>
<text x="89.90" y="331.70" font-size="3.5" stroke="#1a1a1a" stroke-width="0.12" fill="#1a1a1a" textLength="82.60" lengthAdjust="spacingAndGlyphs" style="text-rendering:geometricPrecision">Pgi_QTDVVNGDGDLQPLM[15.9949]TEALKPTGK</text>
<text x="89.90" y="336.00" font-size="3.5" stroke="#1a1a1a" stroke-width="0.12" fill="#1a1a1a" textLength="59.10" lengthAdjust="spacingAndGlyphs" style="text-rendering:geometricPrecision">Pgi_GTDPVLGDKGM[15.9949]FDVR</text>
<text x="89.90" y="340.30" font-size="3.5" stroke="#1a1a1a" stroke-width="0.12" fill="#1a1a1a" textLength="81.50" lengthAdjust="spacingAndGlyphs" style="text-rendering:geometricPrecision">Pgk_FADNAVSEAFYEAGPDGHM[15.9949]GLEVGPK</text>
<text x="89.90" y="344.60" font-size="3.5" stroke="#1a1a1a" stroke-width="0.12" fill="#1a1a1a" textLength="81.50" lengthAdjust="spacingAndGlyphs" style="text-rendering:geometricPrecision">Eno_LAAGEFM[15.9949]LPTGAFSFTEAM[15.9949]K</text>
<text x="89.90" y="348.90" font-size="3.5" stroke="#1a1a1a" stroke-width="0.12" fill="#1a1a1a" textLength="78.30" lengthAdjust="spacingAndGlyphs" style="text-rendering:geometricPrecision">Gapdh2_VNEDHFEHSGLM[15.9949]TTVHATTATQK</text>
<text x="89.90" y="353.20" font-size="3.5" stroke="#1a1a1a" stroke-width="0.12" fill="#1a1a1a" textLength="76.20" lengthAdjust="spacingAndGlyphs" style="text-rendering:geometricPrecision">PyK_IEMGGAM[15.9949]HLGEGEAGGNM[15.9949]AR</text>
<text x="89.90" y="357.50" font-size="3.5" stroke="#1a1a1a" stroke-width="0.12" fill="#1a1a1a" textLength="92.20" lengthAdjust="spacingAndGlyphs" style="text-rendering:geometricPrecision">PyK_AESCVANAVLDGADC[125.0477]VM[15.9949]LSGETAK</text>
<text x="89.90" y="361.80" font-size="3.5" stroke="#1a1a1a" stroke-width="0.12" fill="#1a1a1a" textLength="67.70" lengthAdjust="spacingAndGlyphs" style="text-rendering:geometricPrecision">PyK_QEYPLEC[125.0477]TNTLM[15.9949]K</text>
<text x="89.90" y="366.10" font-size="3.5" stroke="#1a1a1a" stroke-width="0.12" fill="#1a1a1a" textLength="76.20" lengthAdjust="spacingAndGlyphs" style="text-rendering:geometricPrecision">Gapdh1_GASVVNVNDPFIDVNYM[15.9949]VYLFK</text>
<text x="89.90" y="370.40" font-size="3.5" stroke="#1a1a1a" stroke-width="0.12" fill="#1a1a1a" textLength="67.70" lengthAdjust="spacingAndGlyphs" style="text-rendering:geometricPrecision">Eno_LAAGEFM[15.9949]LPTGAFSFTEAM[15.9949]K</text>
<defs><linearGradient id="hmcb" x1="0" y1="0" x2="0" y2="1"><stop offset="0" stop-color="#e52a2a"/><stop offset="0.5" stop-color="#ffffff"/><stop offset="1" stop-color="#3d4fa6"/></linearGradient></defs>
<rect x="211.00" y="214.30" width="3.50" height="63.10" fill="url(#hmcb)"/>
<line x1="211.00" y1="227.50" x2="211.80" y2="227.50" stroke="#fff" stroke-width="0.3"/>
<line x1="213.70" y1="227.50" x2="214.50" y2="227.50" stroke="#fff" stroke-width="0.3"/>
<text x="216.90" y="228.90" font-size="3.9" fill="#222">2</text>
<line x1="211.00" y1="240.60" x2="211.80" y2="240.60" stroke="#fff" stroke-width="0.3"/>
<line x1="213.70" y1="240.60" x2="214.50" y2="240.60" stroke="#fff" stroke-width="0.3"/>
<text x="216.90" y="242.00" font-size="3.9" fill="#222">1</text>
<line x1="211.00" y1="253.70" x2="211.80" y2="253.70" stroke="#fff" stroke-width="0.3"/>
<line x1="213.70" y1="253.70" x2="214.50" y2="253.70" stroke="#fff" stroke-width="0.3"/>
<text x="216.90" y="255.10" font-size="3.9" fill="#222">0</text>
<line x1="211.00" y1="267.40" x2="211.80" y2="267.40" stroke="#fff" stroke-width="0.3"/>
<line x1="213.70" y1="267.40" x2="214.50" y2="267.40" stroke="#fff" stroke-width="0.3"/>
<text x="216.90" y="268.80" font-size="3.9" fill="#222">-1</text>
<text x="223.70" y="220.40" font-size="6.8" font-weight="bold" fill="#111" textLength="31.60" lengthAdjust="spacingAndGlyphs">Condition</text>
<rect x="223.70" y="222.70" width="9.50" height="9.50" fill="#4bc4cf"/>
<rect x="223.70" y="232.80" width="9.50" height="9.50" fill="#f39a95"/>
<text x="235.80" y="230.10" font-size="6.6" fill="#111" textLength="13.50" lengthAdjust="spacingAndGlyphs">NSD</text>
<text x="235.80" y="239.70" font-size="6.6" fill="#111" textLength="13.50" lengthAdjust="spacingAndGlyphs">HSD</text>
<line x1="345.50" y1="206.00" x2="345.50" y2="361.80" stroke="#d8d8d8" stroke-width="0.45" stroke-dasharray="1.3 6.6"/>
<line x1="415.60" y1="206.00" x2="415.60" y2="361.80" stroke="#d8d8d8" stroke-width="0.45" stroke-dasharray="1.3 6.6"/>
<line x1="485.70" y1="206.00" x2="485.70" y2="361.80" stroke="#d8d8d8" stroke-width="0.45" stroke-dasharray="1.3 6.6"/>
<line x1="276.90" y1="315.20" x2="490.00" y2="315.20" stroke="#d8d8d8" stroke-width="0.45" stroke-dasharray="1.3 6.6"/>
<line x1="276.90" y1="267.00" x2="490.00" y2="267.00" stroke="#d8d8d8" stroke-width="0.45" stroke-dasharray="1.3 6.6"/>
<line x1="276.90" y1="218.80" x2="490.00" y2="218.80" stroke="#d8d8d8" stroke-width="0.45" stroke-dasharray="1.3 6.6"/>
<path d="M295.5,237.2 L310.0,244.5 L330.0,254.5 L350.0,264.0 L370.0,273.1 L390.0,281.5 L410.0,290.3 L430.0,296.0 L450.0,299.6 L477.4,300.9 L477.4,354.9 L460.0,345.0 L445.0,338.6 L430.0,331.0 L411.8,321.0 L395.0,315.5 L380.2,314.0 L360.0,308.5 L340.0,302.8 L320.0,300.0 L295.5,298.0 Z" fill="#d9d9d9"/>
<line x1="295.50" y1="267.10" x2="477.40" y2="327.00" stroke="#e8323a" stroke-width="0.75" stroke-dasharray="1.6 1.2"/>
<line x1="276.60" y1="206.00" x2="276.60" y2="362.20" stroke="#555" stroke-width="0.9"/>
<line x1="276.20" y1="362.20" x2="496.00" y2="362.20" stroke="#555" stroke-width="0.9"/>
<line x1="275.30" y1="218.80" x2="276.90" y2="218.80" stroke="#555" stroke-width="0.4"/>
<text x="274.40" y="220.85" font-size="5.7" text-anchor="end" fill="#555">4</text>
<line x1="275.30" y1="267.00" x2="276.90" y2="267.00" stroke="#555" stroke-width="0.4"/>
<text x="274.40" y="269.05" font-size="5.7" text-anchor="end" fill="#555">3</text>
<line x1="275.30" y1="315.20" x2="276.90" y2="315.20" stroke="#555" stroke-width="0.4"/>
<text x="274.40" y="317.25" font-size="5.7" text-anchor="end" fill="#555">2</text>
<line x1="345.50" y1="362.20" x2="345.50" y2="363.60" stroke="#555" stroke-width="0.4"/>
<text x="345.50" y="368.80" font-size="5.6" text-anchor="middle" fill="#555">0.2</text>
<line x1="415.60" y1="362.20" x2="415.60" y2="363.60" stroke="#555" stroke-width="0.4"/>
<text x="415.60" y="368.80" font-size="5.6" text-anchor="middle" fill="#555">0.4</text>
<line x1="485.70" y1="362.20" x2="485.70" y2="363.60" stroke="#555" stroke-width="0.4"/>
<text x="485.70" y="368.80" font-size="5.6" text-anchor="middle" fill="#555">0.6</text>
<line x1="295.40" y1="213.30" x2="295.40" y2="280.90" stroke="#444" stroke-width="0.85"/>
<line x1="287.00" y1="213.30" x2="303.80" y2="213.30" stroke="#444" stroke-width="0.85"/>
<line x1="287.00" y1="280.90" x2="303.80" y2="280.90" stroke="#444" stroke-width="0.85"/>
<line x1="365.70" y1="293.70" x2="365.70" y2="322.30" stroke="#444" stroke-width="0.85"/>
<line x1="357.40" y1="293.70" x2="374.00" y2="293.70" stroke="#444" stroke-width="0.85"/>
<line x1="357.40" y1="322.30" x2="374.00" y2="322.30" stroke="#444" stroke-width="0.85"/>
<line x1="380.40" y1="276.60" x2="380.40" y2="322.80" stroke="#444" stroke-width="0.85"/>
<line x1="372.10" y1="276.60" x2="388.70" y2="276.60" stroke="#444" stroke-width="0.85"/>
<line x1="372.10" y1="322.80" x2="388.70" y2="322.80" stroke="#444" stroke-width="0.85"/>
<line x1="380.40" y1="289.20" x2="380.40" y2="331.00" stroke="#444" stroke-width="0.85"/>
<line x1="372.10" y1="289.20" x2="388.70" y2="289.20" stroke="#444" stroke-width="0.85"/>
<line x1="372.10" y1="331.00" x2="388.70" y2="331.00" stroke="#444" stroke-width="0.85"/>
<line x1="380.40" y1="299.30" x2="380.40" y2="312.60" stroke="#444" stroke-width="0.85"/>
<line x1="372.10" y1="299.30" x2="388.70" y2="299.30" stroke="#444" stroke-width="0.85"/>
<line x1="372.10" y1="312.60" x2="388.70" y2="312.60" stroke="#444" stroke-width="0.85"/>
<line x1="426.50" y1="263.10" x2="426.50" y2="310.60" stroke="#444" stroke-width="0.85"/>
<line x1="418.20" y1="263.10" x2="434.80" y2="263.10" stroke="#444" stroke-width="0.85"/>
<line x1="418.20" y1="310.60" x2="434.80" y2="310.60" stroke="#444" stroke-width="0.85"/>
<line x1="454.80" y1="308.40" x2="454.80" y2="335.60" stroke="#444" stroke-width="0.85"/>
<line x1="446.10" y1="308.40" x2="463.50" y2="308.40" stroke="#444" stroke-width="0.85"/>
<line x1="446.10" y1="335.60" x2="463.50" y2="335.60" stroke="#444" stroke-width="0.85"/>
<line x1="477.40" y1="313.30" x2="477.40" y2="333.20" stroke="#444" stroke-width="0.85"/>
<line x1="469.10" y1="313.30" x2="485.70" y2="313.30" stroke="#444" stroke-width="0.85"/>
<line x1="469.10" y1="333.20" x2="485.70" y2="333.20" stroke="#444" stroke-width="0.85"/>
<circle cx="295.40" cy="247.00" r="2.20" fill="#111"/>
<circle cx="365.70" cy="308.00" r="2.20" fill="#111"/>
<circle cx="380.40" cy="300.20" r="2.20" fill="#111"/>
<circle cx="380.40" cy="314.90" r="2.20" fill="#111"/>
<circle cx="426.50" cy="286.70" r="2.20" fill="#111"/>
<circle cx="454.80" cy="322.00" r="2.20" fill="#111"/>
<circle cx="477.40" cy="323.10" r="2.20" fill="#111"/>
<text x="297.70" y="243.30" font-size="6.0" stroke="#111" stroke-width="0.12" fill="#111" textLength="11.10" lengthAdjust="spacingAndGlyphs">PyK</text>
<text x="353.40" y="304.30" font-size="6.0" stroke="#111" stroke-width="0.12" fill="#111" textLength="9.60" lengthAdjust="spacingAndGlyphs">Pfk</text>
<text x="383.30" y="296.20" font-size="6.0" stroke="#111" stroke-width="0.12" fill="#111" textLength="10.60" lengthAdjust="spacingAndGlyphs">Eno</text>
<text x="383.30" y="308.90" font-size="6.0" stroke="#111" stroke-width="0.12" fill="#111" textLength="10.60" lengthAdjust="spacingAndGlyphs">Pgk</text>
<text x="391.20" y="329.30" font-size="6.0" stroke="#111" stroke-width="0.12" fill="#111" textLength="27.10" lengthAdjust="spacingAndGlyphs">Gapdh1/2</text>
<line x1="380.40" y1="314.90" x2="390.50" y2="326.00" stroke="#333" stroke-width="0.35"/>
<text x="429.90" y="283.30" font-size="6.0" stroke="#111" stroke-width="0.12" fill="#111" textLength="9.10" lengthAdjust="spacingAndGlyphs">Pgi</text>
<text x="441.00" y="318.80" font-size="6.0" stroke="#111" stroke-width="0.12" fill="#111" textLength="12.00" lengthAdjust="spacingAndGlyphs">Aldo</text>
<text x="460.90" y="330.80" font-size="6.0" stroke="#111" stroke-width="0.12" fill="#111" textLength="18.10" lengthAdjust="spacingAndGlyphs">Pgam1</text>
<text x="444.70" y="230.70" font-size="7.1" font-weight="bold" fill="#111" textLength="30.80" lengthAdjust="spacingAndGlyphs">r = -0.771</text>
<text x="444.70" y="240.50" font-size="7.1" font-weight="bold" fill="#111" textLength="34.30" lengthAdjust="spacingAndGlyphs">p = 0.0251</text>
<text x="385.50" y="375.90" font-size="6.8" text-anchor="middle" font-weight="bold" fill="#111" textLength="92.00" lengthAdjust="spacingAndGlyphs">Model-predicted relative flux</text>
<text x="386.00" y="383.30" font-size="6.8" text-anchor="middle" font-weight="bold" fill="#111" textLength="111.00" lengthAdjust="spacingAndGlyphs">(HSD-muscle-GEM/unconstrained)</text>
<text x="261.30" y="283.90" font-size="6.5" text-anchor="middle" font-weight="bold" fill="#111" textLength="77.00" lengthAdjust="spacingAndGlyphs" transform="rotate(-90 261.30 283.90)">Relative Oxidation State</text>
<text x="268.50" y="283.90" font-size="6.5" text-anchor="middle" font-weight="bold" fill="#111" textLength="34.50" lengthAdjust="spacingAndGlyphs" transform="rotate(-90 268.50 283.90)">(HSD/NSD)</text>
<line x1="552.60" y1="261.14" x2="643.50" y2="261.14" stroke="#f3f3f3" stroke-width="0.45"/>
<line x1="552.60" y1="245.61" x2="643.50" y2="245.61" stroke="#f3f3f3" stroke-width="0.45"/>
<line x1="552.60" y1="230.09" x2="643.50" y2="230.09" stroke="#f3f3f3" stroke-width="0.45"/>
<line x1="552.60" y1="214.56" x2="643.50" y2="214.56" stroke="#f3f3f3" stroke-width="0.45"/>
<line x1="552.60" y1="268.90" x2="643.50" y2="268.90" stroke="#e9e9e9" stroke-width="0.55"/>
<line x1="552.60" y1="253.38" x2="643.50" y2="253.38" stroke="#e9e9e9" stroke-width="0.55"/>
<line x1="552.60" y1="237.85" x2="643.50" y2="237.85" stroke="#e9e9e9" stroke-width="0.55"/>
<line x1="552.60" y1="222.33" x2="643.50" y2="222.33" stroke="#e9e9e9" stroke-width="0.55"/>
<line x1="552.60" y1="206.80" x2="643.50" y2="206.80" stroke="#e9e9e9" stroke-width="0.55"/>
<line x1="579.30" y1="203.00" x2="579.30" y2="271.50" stroke="#ececec" stroke-width="0.55"/>
<line x1="621.10" y1="203.00" x2="621.10" y2="271.50" stroke="#ececec" stroke-width="0.55"/>
<text x="552.20" y="208.55" font-size="4.85" text-anchor="end" fill="#4a4a4a">0.150</text>
<text x="552.20" y="224.08" font-size="4.85" text-anchor="end" fill="#4a4a4a">0.125</text>
<text x="552.20" y="239.60" font-size="4.85" text-anchor="end" fill="#4a4a4a">0.100</text>
<text x="552.20" y="255.12" font-size="4.85" text-anchor="end" fill="#4a4a4a">0.075</text>
<text x="552.20" y="270.65" font-size="4.85" text-anchor="end" fill="#4a4a4a">0.050</text>
<line x1="579.30" y1="245.80" x2="579.30" y2="255.30" stroke="#888" stroke-width="0.5"/>
<line x1="579.30" y1="266.90" x2="579.30" y2="268.60" stroke="#888" stroke-width="0.5"/>
<rect x="563.20" y="255.30" width="31.70" height="11.60" fill="#767676" stroke="#4a4a4a" stroke-width="0.45"/>
<line x1="563.20" y1="262.60" x2="594.90" y2="262.60" stroke="#555" stroke-width="0.5"/>
<line x1="621.10" y1="247.00" x2="621.10" y2="250.50" stroke="#c86a55" stroke-width="0.5"/>
<rect x="605.30" y="236.80" width="31.40" height="10.20" fill="#e3785c" stroke="#a85a47" stroke-width="0.45"/>
<line x1="605.30" y1="240.20" x2="636.70" y2="240.20" stroke="#b8604b" stroke-width="0.5"/>
<circle cx="574.50" cy="245.80" r="0.55" fill="#333"/>
<circle cx="573.00" cy="254.40" r="0.55" fill="#333"/>
<circle cx="572.30" cy="259.90" r="0.55" fill="#333"/>
<circle cx="583.10" cy="262.80" r="0.55" fill="#333"/>
<circle cx="582.40" cy="267.30" r="0.55" fill="#333"/>
<circle cx="576.80" cy="268.40" r="0.55" fill="#333"/>
<circle cx="615.20" cy="202.50" r="0.55" fill="#333"/>
<circle cx="618.80" cy="236.40" r="0.55" fill="#333"/>
<circle cx="623.30" cy="238.00" r="0.55" fill="#333"/>
<circle cx="620.40" cy="242.00" r="0.55" fill="#333"/>
<circle cx="620.40" cy="248.80" r="0.55" fill="#333"/>
<circle cx="621.50" cy="250.40" r="0.55" fill="#333"/>
<circle cx="613.60" cy="252.60" r="0.55" fill="#333"/>
<text x="579.10" y="277.00" font-size="4.85" text-anchor="middle" fill="#4a4a4a">NSD</text>
<text x="621.00" y="277.00" font-size="4.85" text-anchor="middle" fill="#4a4a4a">HSD</text>
<text x="538.10" y="232.70" font-size="5.2" text-anchor="middle" font-weight="bold" fill="#222" textLength="50.90" lengthAdjust="spacingAndGlyphs" transform="rotate(-90 538.10 232.70)">Normalized Intensity</text>
<text x="600.20" y="191.60" font-size="4.2" text-anchor="middle" font-weight="bold" fill="#111" textLength="97.80" lengthAdjust="spacingAndGlyphs">Gapdh1_GASVVNVNDPFIDVNYM[15.9949]VYLFK</text>
<text x="600.20" y="200.10" font-size="5.5" text-anchor="middle" font-weight="bold" fill="#111" textLength="26.40" lengthAdjust="spacingAndGlyphs">p = 0.0221</text>
<rect x="652.10" y="228.60" width="4.60" height="3.40" fill="#6f6f6f" stroke="#444" stroke-width="0.35"/>
<line x1="654.40" y1="227.80" x2="654.40" y2="232.80" stroke="#444" stroke-width="0.3"/>
<rect x="652.10" y="234.40" width="4.60" height="3.40" fill="#df7355" stroke="#a85a47" stroke-width="0.35"/>
<line x1="654.40" y1="233.60" x2="654.40" y2="238.60" stroke="#a85a47" stroke-width="0.3"/>
<text x="658.80" y="232.00" font-size="4.6" fill="#222" textLength="10.20" lengthAdjust="spacingAndGlyphs">NSD</text>
<text x="658.80" y="237.70" font-size="4.6" fill="#222" textLength="10.20" lengthAdjust="spacingAndGlyphs">HSD</text>
<line x1="540.50" y1="302.80" x2="540.50" y2="384.40" stroke="#333" stroke-width="0.6"/>
<line x1="540.20" y1="384.40" x2="667.60" y2="384.40" stroke="#333" stroke-width="0.6"/>
<line x1="539.30" y1="311.70" x2="540.50" y2="311.70" stroke="#555" stroke-width="0.4"/>
<text x="538.20" y="313.35" font-size="4.7" text-anchor="end" fill="#666">1.5</text>
<line x1="539.30" y1="334.60" x2="540.50" y2="334.60" stroke="#555" stroke-width="0.4"/>
<text x="538.20" y="336.25" font-size="4.7" text-anchor="end" fill="#666">1.0</text>
<line x1="539.30" y1="357.50" x2="540.50" y2="357.50" stroke="#555" stroke-width="0.4"/>
<text x="538.20" y="359.15" font-size="4.7" text-anchor="end" fill="#666">0.5</text>
<line x1="539.30" y1="380.40" x2="540.50" y2="380.40" stroke="#555" stroke-width="0.4"/>
<text x="538.20" y="382.05" font-size="4.7" text-anchor="end" fill="#666">0.0</text>
<line x1="575.30" y1="384.40" x2="575.30" y2="385.60" stroke="#555" stroke-width="0.4"/>
<text x="575.30" y="390.30" font-size="5.2" text-anchor="middle" fill="#555">5</text>
<line x1="633.80" y1="384.40" x2="633.80" y2="385.60" stroke="#555" stroke-width="0.4"/>
<text x="633.80" y="390.30" font-size="5.2" text-anchor="middle" fill="#555">10</text>
<rect x="553.20" y="334.60" width="20.70" height="45.80" fill="#666666" stroke="#222" stroke-width="0.45"/>
<rect x="577.00" y="342.39" width="20.50" height="38.01" fill="#cd2127" stroke="#222" stroke-width="0.45"/>
<rect x="611.90" y="334.60" width="20.10" height="45.80" fill="#666666" stroke="#222" stroke-width="0.45"/>
<rect x="635.60" y="354.29" width="20.20" height="26.11" fill="#cd2127" stroke="#222" stroke-width="0.45"/>
<line x1="563.60" y1="320.10" x2="563.60" y2="349.30" stroke="#222" stroke-width="0.55"/>
<line x1="560.90" y1="320.10" x2="566.30" y2="320.10" stroke="#222" stroke-width="0.55"/>
<line x1="560.90" y1="349.30" x2="566.30" y2="349.30" stroke="#222" stroke-width="0.55"/>
<line x1="587.10" y1="326.60" x2="587.10" y2="358.40" stroke="#222" stroke-width="0.55"/>
<line x1="584.40" y1="326.60" x2="589.80" y2="326.60" stroke="#222" stroke-width="0.55"/>
<line x1="584.40" y1="358.40" x2="589.80" y2="358.40" stroke="#222" stroke-width="0.55"/>
<line x1="622.30" y1="328.90" x2="622.30" y2="337.80" stroke="#222" stroke-width="0.55"/>
<line x1="619.60" y1="328.90" x2="625.00" y2="328.90" stroke="#222" stroke-width="0.55"/>
<line x1="619.60" y1="337.80" x2="625.00" y2="337.80" stroke="#222" stroke-width="0.55"/>
<line x1="645.40" y1="346.70" x2="645.40" y2="363.00" stroke="#222" stroke-width="0.55"/>
<line x1="642.70" y1="346.70" x2="648.10" y2="346.70" stroke="#222" stroke-width="0.55"/>
<line x1="642.70" y1="363.00" x2="648.10" y2="363.00" stroke="#222" stroke-width="0.55"/>
<circle cx="561.00" cy="318.30" r="0.85" fill="#333"/>
<circle cx="563.60" cy="341.00" r="0.85" fill="#333"/>
<circle cx="566.90" cy="344.20" r="0.85" fill="#333"/>
<circle cx="589.50" cy="324.80" r="0.85" fill="#7a1a1a"/>
<circle cx="587.60" cy="346.20" r="0.85" fill="#7a1a1a"/>
<circle cx="586.30" cy="355.80" r="0.85" fill="#7a1a1a"/>
<circle cx="621.10" cy="328.90" r="0.85" fill="#333"/>
<circle cx="623.00" cy="336.50" r="0.85" fill="#333"/>
<circle cx="620.00" cy="336.00" r="0.85" fill="#333"/>
<circle cx="648.40" cy="348.80" r="0.85" fill="#7a1a1a"/>
<circle cx="645.00" cy="351.50" r="0.85" fill="#7a1a1a"/>
<circle cx="644.00" cy="362.40" r="0.85" fill="#7a1a1a"/>
<line x1="563.60" y1="312.60" x2="587.60" y2="312.60" stroke="#333" stroke-width="0.45"/>
<line x1="563.60" y1="312.60" x2="563.60" y2="314.00" stroke="#333" stroke-width="0.45"/>
<line x1="587.60" y1="312.60" x2="587.60" y2="314.00" stroke="#333" stroke-width="0.45"/>
<text x="575.50" y="311.00" font-size="4.8" text-anchor="middle" fill="#333">ns</text>
<line x1="622.30" y1="315.60" x2="645.40" y2="315.60" stroke="#333" stroke-width="0.45"/>
<line x1="622.30" y1="315.60" x2="622.30" y2="317.00" stroke="#333" stroke-width="0.45"/>
<line x1="645.40" y1="315.60" x2="645.40" y2="317.00" stroke="#333" stroke-width="0.45"/>
<text x="633.80" y="315.60" font-size="5.2" text-anchor="middle" fill="#333">*</text>
<rect x="558.00" y="291.40" width="3.80" height="4.20" fill="#666666" stroke="#222" stroke-width="0.35"/>
<text x="565.30" y="295.20" font-size="5.0" fill="#222" textLength="16.00" lengthAdjust="spacingAndGlyphs">Control</text>
<rect x="584.60" y="291.40" width="3.80" height="4.20" fill="#cd2127" stroke="#222" stroke-width="0.35"/>
<text x="591.4" y="295.2" font-size="5.0" fill="#222" textLength="59.8" lengthAdjust="spacingAndGlyphs">Muscle<tspan font-size="2.8" dy="-1.6">ts</tspan><tspan dy="1.6">&gt;</tspan><tspan font-style="italic">GAPDH1</tspan>-RNAi</text>
<text x="604.60" y="396.00" font-size="5.4" text-anchor="middle" font-weight="bold" fill="#111" textLength="30.60" lengthAdjust="spacingAndGlyphs">Time (Days)</text>
<text x="523.40" y="341.90" font-size="5.1" text-anchor="middle" font-weight="bold" fill="#111" textLength="26.10" lengthAdjust="spacingAndGlyphs" transform="rotate(-90 523.40 341.90)">% Climbing</text>
<text x="527.80" y="341.10" font-size="5.1" text-anchor="middle" font-weight="bold" fill="#111" textLength="49.10" lengthAdjust="spacingAndGlyphs" transform="rotate(-90 527.80 341.10)">(Relative to Control)</text>
</svg>
</body></html>
